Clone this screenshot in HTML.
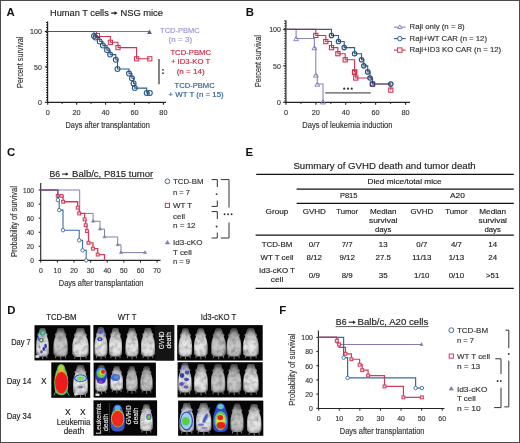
<!DOCTYPE html><html><head><meta charset="utf-8"><style>html,body{margin:0;padding:0;background:#fff;overflow:hidden;}svg{display:block;will-change:transform;filter:blur(0.25px);}text{font-family:"Liberation Sans", sans-serif;}</style></head><body>
<svg width="520" height="443" viewBox="0 0 520 443">
<rect x="0" y="0" width="520" height="443" fill="#fff"/>
<text x="6.6" y="16.1" font-size="11.4" fill="#111" font-weight="bold">A</text>
<text x="245.8" y="16.3" font-size="11.4" fill="#111" font-weight="bold">B</text>
<text x="6.9" y="155.6" font-size="11.4" fill="#111" font-weight="bold">C</text>
<text x="245.5" y="155.5" font-size="11.4" fill="#111" font-weight="bold">E</text>
<text x="7.3" y="313.5" font-size="11.4" fill="#111" font-weight="bold">D</text>
<text x="279.3" y="313.9" font-size="11.4" fill="#111" font-weight="bold">F</text>
<text x="50" y="15.8" font-size="9.0" fill="#222" stroke="#222" stroke-width="0.15" textLength="58.8" lengthAdjust="spacingAndGlyphs">Human T cells</text>
<line x1="111.2" y1="13.1" x2="115.0" y2="13.1" stroke="#222" stroke-width="1.3"/>
<path d="M117.7,13.1 L114.5,11.2 L114.5,15.0 Z" fill="#222"/>
<text x="120.4" y="15.8" font-size="9.0" fill="#222" stroke="#222" stroke-width="0.15" textLength="42.6" lengthAdjust="spacingAndGlyphs">NSG mice</text>
<line x1="47.6" y1="21.6" x2="47.6" y2="102.9" stroke="#222" stroke-width="1.2"/>
<line x1="46.6" y1="22" x2="46.6" y2="102" stroke="#222" stroke-width="1.2" stroke-dasharray="0.9 1.6"/>
<line x1="44.8" y1="102.3" x2="47.6" y2="102.3" stroke="#222" stroke-width="1.1"/>
<line x1="44.8" y1="66.9" x2="47.6" y2="66.9" stroke="#222" stroke-width="1.1"/>
<line x1="44.8" y1="31.5" x2="47.6" y2="31.5" stroke="#222" stroke-width="1.1"/>
<line x1="47" y1="102.3" x2="166" y2="102.3" stroke="#222" stroke-width="1.2"/>
<line x1="47.7" y1="102.3" x2="47.7" y2="104.8" stroke="#222" stroke-width="1.1"/>
<line x1="76.625" y1="102.3" x2="76.625" y2="104.8" stroke="#222" stroke-width="1.1"/>
<line x1="105.55000000000001" y1="102.3" x2="105.55000000000001" y2="104.8" stroke="#222" stroke-width="1.1"/>
<line x1="134.47500000000002" y1="102.3" x2="134.47500000000002" y2="104.8" stroke="#222" stroke-width="1.1"/>
<line x1="163.4" y1="102.3" x2="163.4" y2="104.8" stroke="#222" stroke-width="1.1"/>
<line x1="62.1625" y1="102.3" x2="62.1625" y2="104" stroke="#222" stroke-width="0.9"/>
<line x1="91.0875" y1="102.3" x2="91.0875" y2="104" stroke="#222" stroke-width="0.9"/>
<line x1="120.0125" y1="102.3" x2="120.0125" y2="104" stroke="#222" stroke-width="0.9"/>
<line x1="148.9375" y1="102.3" x2="148.9375" y2="104" stroke="#222" stroke-width="0.9"/>
<text x="41.8" y="34.4" font-size="8.1" fill="#333" stroke="#333" stroke-width="0.15" text-anchor="end" textLength="11.7" lengthAdjust="spacingAndGlyphs">100</text>
<text x="41.8" y="69.80000000000001" font-size="8.1" fill="#333" stroke="#333" stroke-width="0.15" text-anchor="end" textLength="7.8" lengthAdjust="spacingAndGlyphs">50</text>
<text x="41.8" y="105.2" font-size="8.1" fill="#333" stroke="#333" stroke-width="0.15" text-anchor="end" textLength="3.9" lengthAdjust="spacingAndGlyphs">0</text>
<text x="47.7" y="114.9" font-size="8.1" fill="#333" stroke="#333" stroke-width="0.15" text-anchor="middle" textLength="4.05" lengthAdjust="spacingAndGlyphs">0</text>
<text x="76.625" y="114.9" font-size="8.1" fill="#333" stroke="#333" stroke-width="0.15" text-anchor="middle" textLength="8.1" lengthAdjust="spacingAndGlyphs">20</text>
<text x="105.55000000000001" y="114.9" font-size="8.1" fill="#333" stroke="#333" stroke-width="0.15" text-anchor="middle" textLength="8.1" lengthAdjust="spacingAndGlyphs">40</text>
<text x="134.47500000000002" y="114.9" font-size="8.1" fill="#333" stroke="#333" stroke-width="0.15" text-anchor="middle" textLength="8.1" lengthAdjust="spacingAndGlyphs">60</text>
<text x="163.4" y="114.9" font-size="8.1" fill="#333" stroke="#333" stroke-width="0.15" text-anchor="middle" textLength="8.1" lengthAdjust="spacingAndGlyphs">80</text>
<text x="65.5" y="127.6" font-size="8.4" fill="#333" stroke="#333" stroke-width="0.15" textLength="84.3" lengthAdjust="spacingAndGlyphs">Days after transplantation</text>
<text x="0" y="0" font-size="8.2" fill="#333" stroke="#333" stroke-width="0.15" text-anchor="middle" textLength="51.3" lengthAdjust="spacingAndGlyphs" transform="translate(23.3,62.4) rotate(-90)">Percent survival</text>
<path d="M47.70,31.50 L149.60,31.50" stroke="#7676a6" stroke-width="1.1" fill="none" stroke-linejoin="miter"/>
<path d="M149.5,29.6 L151.9,33.9 L147.1,33.9 Z" fill="#5e5e8e"/>
<path d="M47.70,31.50 L96.50,31.50 L96.50,36.50 L110.40,36.50 L110.40,42.20 L118.00,42.20 L118.00,47.60 L136.60,47.60 L136.60,58.70 L149.80,58.70" stroke="#d2304f" stroke-width="1.1" fill="none" stroke-linejoin="miter"/>
<rect x="95.40" y="33.50" width="4.2" height="4.2" stroke="#d2304f" stroke-width="1.0" fill="none"/>
<rect x="108.30" y="40.20" width="4.2" height="4.2" stroke="#d2304f" stroke-width="1.0" fill="none"/>
<rect x="115.90" y="45.50" width="4.2" height="4.2" stroke="#d2304f" stroke-width="1.0" fill="none"/>
<rect x="134.50" y="56.70" width="4.2" height="4.2" stroke="#d2304f" stroke-width="1.0" fill="none"/>
<rect x="147.70" y="56.70" width="4.2" height="4.2" stroke="#d2304f" stroke-width="1.0" fill="none"/>
<path d="M47.70,31.50 L94.00,31.50 L94.00,36.10 L95.60,36.10 L95.60,37.60 L99.70,37.60 L99.70,41.50 L102.90,41.50 L102.90,45.60 L107.00,45.60 L107.00,50.10 L110.10,50.10 L110.10,54.60 L115.80,54.60 L115.80,59.80 L117.50,59.80 L117.50,69.00 L129.00,69.00 L129.00,73.60 L131.90,73.60 L131.90,78.30 L133.60,78.30 L133.60,83.40 L134.80,83.40 L134.80,88.10 L146.70,88.10 L146.70,92.90 L149.80,92.90" stroke="#2d5d8e" stroke-width="1.1" fill="none" stroke-linejoin="miter"/>
<circle cx="94.00" cy="36.10" r="2.45" stroke="#2b5583" stroke-width="1.1" fill="none"/>
<circle cx="95.60" cy="37.60" r="2.45" stroke="#2b5583" stroke-width="1.1" fill="none"/>
<circle cx="99.70" cy="41.50" r="2.45" stroke="#2b5583" stroke-width="1.1" fill="none"/>
<circle cx="102.90" cy="45.60" r="2.45" stroke="#2b5583" stroke-width="1.1" fill="none"/>
<circle cx="107.00" cy="50.10" r="2.45" stroke="#2b5583" stroke-width="1.1" fill="none"/>
<circle cx="110.10" cy="54.60" r="2.45" stroke="#2b5583" stroke-width="1.1" fill="none"/>
<circle cx="115.80" cy="59.80" r="2.45" stroke="#2b5583" stroke-width="1.1" fill="none"/>
<circle cx="117.50" cy="69.00" r="2.45" stroke="#2b5583" stroke-width="1.1" fill="none"/>
<circle cx="129.00" cy="73.60" r="2.45" stroke="#2b5583" stroke-width="1.1" fill="none"/>
<circle cx="131.90" cy="78.30" r="2.45" stroke="#2b5583" stroke-width="1.1" fill="none"/>
<circle cx="133.60" cy="83.40" r="2.45" stroke="#2b5583" stroke-width="1.1" fill="none"/>
<circle cx="134.80" cy="88.10" r="2.45" stroke="#2b5583" stroke-width="1.1" fill="none"/>
<circle cx="146.70" cy="92.90" r="2.45" stroke="#2b5583" stroke-width="1.1" fill="none"/>
<circle cx="149.80" cy="92.90" r="2.45" stroke="#2b5583" stroke-width="1.1" fill="none"/>
<text x="160.1" y="32.7" font-size="7.7" fill="#9895cf" stroke="#9895cf" stroke-width="0.15" textLength="39.7" lengthAdjust="spacingAndGlyphs">TCD-PBMC</text>
<text x="168.6" y="42.1" font-size="7.7" fill="#9895cf" stroke="#9895cf" stroke-width="0.15" textLength="23.5" lengthAdjust="spacingAndGlyphs">(n = 3)</text>
<text x="170.4" y="55.3" font-size="7.7" fill="#c8253f" stroke="#c8253f" stroke-width="0.15" textLength="40.6" lengthAdjust="spacingAndGlyphs">TCD-PBMC</text>
<text x="170.9" y="64.3" font-size="7.7" fill="#c8253f" stroke="#c8253f" stroke-width="0.15" textLength="39.3" lengthAdjust="spacingAndGlyphs">+ ID3-KO T</text>
<text x="176.7" y="73.9" font-size="7.7" fill="#c8253f" stroke="#c8253f" stroke-width="0.15" textLength="28" lengthAdjust="spacingAndGlyphs">(n = 14)</text>
<text x="174.5" y="88.4" font-size="7.7" fill="#2c5d8d" stroke="#2c5d8d" stroke-width="0.15" textLength="40.2" lengthAdjust="spacingAndGlyphs">TCD-PBMC</text>
<text x="168.6" y="96.9" font-size="7.7" fill="#2c5d8d" stroke="#2c5d8d" stroke-width="0.15" textLength="55.1" lengthAdjust="spacingAndGlyphs">+ WT T (n = 15)</text>
<line x1="159" y1="58.9" x2="159" y2="84.2" stroke="#777" stroke-width="1.8"/>
<circle cx="163.00" cy="69.80" r="0.9" stroke="#333" stroke-width="0" fill="#333"/>
<circle cx="163.00" cy="73.20" r="0.9" stroke="#333" stroke-width="0" fill="#333"/>
<line x1="285.9" y1="20.2" x2="285.9" y2="102.9" stroke="#222" stroke-width="1.2"/>
<line x1="284.9" y1="20.5" x2="284.9" y2="102" stroke="#222" stroke-width="1.2" stroke-dasharray="0.9 1.6"/>
<line x1="283.2" y1="102.3" x2="285.9" y2="102.3" stroke="#222" stroke-width="1.1"/>
<line x1="283.2" y1="65.85" x2="285.9" y2="65.85" stroke="#222" stroke-width="1.1"/>
<line x1="283.2" y1="29.39999999999999" x2="285.9" y2="29.39999999999999" stroke="#222" stroke-width="1.1"/>
<line x1="285.3" y1="102.3" x2="410" y2="102.3" stroke="#222" stroke-width="1.2"/>
<line x1="286.0" y1="102.3" x2="286.0" y2="104.8" stroke="#222" stroke-width="1.1"/>
<line x1="315.875" y1="102.3" x2="315.875" y2="104.8" stroke="#222" stroke-width="1.1"/>
<line x1="345.75" y1="102.3" x2="345.75" y2="104.8" stroke="#222" stroke-width="1.1"/>
<line x1="375.625" y1="102.3" x2="375.625" y2="104.8" stroke="#222" stroke-width="1.1"/>
<line x1="405.5" y1="102.3" x2="405.5" y2="104.8" stroke="#222" stroke-width="1.1"/>
<line x1="300.9375" y1="102.3" x2="300.9375" y2="104" stroke="#222" stroke-width="0.9"/>
<line x1="330.8125" y1="102.3" x2="330.8125" y2="104" stroke="#222" stroke-width="0.9"/>
<line x1="360.6875" y1="102.3" x2="360.6875" y2="104" stroke="#222" stroke-width="0.9"/>
<line x1="390.5625" y1="102.3" x2="390.5625" y2="104" stroke="#222" stroke-width="0.9"/>
<text x="280.9" y="32.29999999999999" font-size="8.1" fill="#333" stroke="#333" stroke-width="0.15" text-anchor="end" textLength="11.7" lengthAdjust="spacingAndGlyphs">100</text>
<text x="280.9" y="68.75" font-size="8.1" fill="#333" stroke="#333" stroke-width="0.15" text-anchor="end" textLength="7.8" lengthAdjust="spacingAndGlyphs">50</text>
<text x="280.9" y="105.2" font-size="8.1" fill="#333" stroke="#333" stroke-width="0.15" text-anchor="end" textLength="3.9" lengthAdjust="spacingAndGlyphs">0</text>
<text x="286.0" y="115.0" font-size="8.1" fill="#333" stroke="#333" stroke-width="0.15" text-anchor="middle" textLength="4.05" lengthAdjust="spacingAndGlyphs">0</text>
<text x="315.875" y="115.0" font-size="8.1" fill="#333" stroke="#333" stroke-width="0.15" text-anchor="middle" textLength="8.1" lengthAdjust="spacingAndGlyphs">20</text>
<text x="345.75" y="115.0" font-size="8.1" fill="#333" stroke="#333" stroke-width="0.15" text-anchor="middle" textLength="8.1" lengthAdjust="spacingAndGlyphs">40</text>
<text x="375.625" y="115.0" font-size="8.1" fill="#333" stroke="#333" stroke-width="0.15" text-anchor="middle" textLength="8.1" lengthAdjust="spacingAndGlyphs">60</text>
<text x="405.5" y="115.0" font-size="8.1" fill="#333" stroke="#333" stroke-width="0.15" text-anchor="middle" textLength="8.1" lengthAdjust="spacingAndGlyphs">80</text>
<text x="302.3" y="127.6" font-size="8.4" fill="#333" stroke="#333" stroke-width="0.15" textLength="90.2" lengthAdjust="spacingAndGlyphs">Days of leukemia induction</text>
<text x="0" y="0" font-size="8.2" fill="#333" stroke="#333" stroke-width="0.15" text-anchor="middle" textLength="51.8" lengthAdjust="spacingAndGlyphs" transform="translate(261.2,61.1) rotate(-90)">Percent survival</text>
<path d="M286.00,29.40 L296.10,29.40 L296.10,38.51 L314.40,38.51 L314.40,47.62 L315.80,47.62 L315.80,74.96 L317.30,74.96 L317.30,84.07 L323.00,84.07 L323.00,102.30" stroke="#8686c0" stroke-width="1.1" fill="none" stroke-linejoin="miter"/>
<path d="M296.10,36.51 L298.52,40.65 L293.69,40.65 Z" stroke="#8686c0" stroke-width="1.0" fill="none"/>
<path d="M314.40,45.62 L316.81,49.77 L311.98,49.77 Z" stroke="#8686c0" stroke-width="1.0" fill="none"/>
<path d="M315.80,72.96 L318.22,77.10 L313.38,77.10 Z" stroke="#8686c0" stroke-width="1.0" fill="none"/>
<path d="M317.30,82.07 L319.72,86.21 L314.88,86.21 Z" stroke="#8686c0" stroke-width="1.0" fill="none"/>
<path d="M323.00,99.80 L325.42,103.94 L320.58,103.94 Z" stroke="#8686c0" stroke-width="1.0" fill="none"/>
<path d="M286.00,29.40 L315.80,29.40 L315.80,35.45 L325.80,35.45 L325.80,41.57 L331.50,41.57 L331.50,47.62 L337.90,47.62 L337.90,53.68 L345.20,53.68 L345.20,59.80 L354.60,59.80 L354.60,71.90 L355.80,71.90 L355.80,78.02 L372.50,78.02 L372.50,84.07 L390.80,84.07 L390.80,90.13" stroke="#d2304f" stroke-width="1.1" fill="none" stroke-linejoin="miter"/>
<path d="M286.00,29.40 L331.50,29.40 L331.50,35.45 L338.50,35.45 L338.50,41.57 L344.20,41.57 L344.20,47.62 L354.60,47.62 L354.60,53.68 L361.50,53.68 L361.50,59.80 L363.80,59.80 L363.80,65.85 L367.70,65.85 L367.70,71.90 L370.00,71.90 L370.00,78.02 L372.50,78.02 L372.50,84.07 L390.80,84.07" stroke="#2d5d8e" stroke-width="1.1" fill="none" stroke-linejoin="miter"/>
<rect x="313.70" y="33.35" width="4.2" height="4.2" stroke="#d2304f" stroke-width="1.1" fill="none"/>
<rect x="323.70" y="39.47" width="4.2" height="4.2" stroke="#d2304f" stroke-width="1.1" fill="none"/>
<rect x="329.40" y="45.52" width="4.2" height="4.2" stroke="#d2304f" stroke-width="1.1" fill="none"/>
<rect x="335.80" y="51.58" width="4.2" height="4.2" stroke="#d2304f" stroke-width="1.1" fill="none"/>
<rect x="343.10" y="57.70" width="4.2" height="4.2" stroke="#d2304f" stroke-width="1.1" fill="none"/>
<rect x="352.50" y="69.80" width="4.2" height="4.2" stroke="#d2304f" stroke-width="1.1" fill="none"/>
<rect x="353.70" y="75.92" width="4.2" height="4.2" stroke="#d2304f" stroke-width="1.1" fill="none"/>
<rect x="352.50" y="70.30" width="4.2" height="4.2" stroke="#d2304f" stroke-width="1.1" fill="none"/>
<circle cx="331.50" cy="35.45" r="2.2" stroke="#2a4d78" stroke-width="1.2" fill="none"/>
<circle cx="338.50" cy="41.57" r="2.2" stroke="#2a4d78" stroke-width="1.2" fill="none"/>
<circle cx="344.20" cy="47.62" r="2.2" stroke="#2a4d78" stroke-width="1.2" fill="none"/>
<circle cx="354.60" cy="53.68" r="2.2" stroke="#2a4d78" stroke-width="1.2" fill="none"/>
<circle cx="361.50" cy="59.80" r="2.2" stroke="#2a4d78" stroke-width="1.2" fill="none"/>
<circle cx="363.80" cy="65.85" r="2.2" stroke="#2a4d78" stroke-width="1.2" fill="none"/>
<circle cx="367.70" cy="71.90" r="2.2" stroke="#2a4d78" stroke-width="1.2" fill="none"/>
<circle cx="370.00" cy="78.02" r="2.2" stroke="#2a4d78" stroke-width="1.2" fill="none"/>
<circle cx="372.50" cy="84.07" r="2.2" stroke="#2a4d78" stroke-width="1.2" fill="none"/>
<circle cx="390.80" cy="84.07" r="2.2" stroke="#2a4d78" stroke-width="1.2" fill="none"/>
<rect x="370.30" y="81.87" width="4.4" height="4.4" stroke="#4a3a6a" stroke-width="1.0" fill="none"/>
<rect x="388.70" y="88.03" width="4.2" height="4.2" stroke="#d2304f" stroke-width="1.1" fill="none"/>
<line x1="325.2" y1="92.9" x2="370.7" y2="92.9" stroke="#888" stroke-width="1.6"/>
<circle cx="344.20" cy="88.70" r="1.1" stroke="#333" stroke-width="0" fill="#333"/>
<circle cx="348.00" cy="88.70" r="1.1" stroke="#333" stroke-width="0" fill="#333"/>
<circle cx="351.70" cy="88.70" r="1.1" stroke="#333" stroke-width="0" fill="#333"/>
<line x1="394" y1="27.2" x2="405.6" y2="27.2" stroke="#8686c0" stroke-width="1.1"/>
<path d="M399.80,24.90 L401.90,28.50 L397.70,28.50 Z" stroke="#8686c0" stroke-width="1.0" fill="#fff"/>
<line x1="394" y1="38.6" x2="405.6" y2="38.6" stroke="#2d5d8e" stroke-width="1.1"/>
<circle cx="399.80" cy="38.60" r="2.2" stroke="#2d5d8e" stroke-width="1.0" fill="#fff"/>
<line x1="394" y1="50.1" x2="405.6" y2="50.1" stroke="#d2304f" stroke-width="1.1"/>
<rect x="397.60" y="47.90" width="4.4" height="4.4" stroke="#d2304f" stroke-width="1.0" fill="#fff"/>
<text x="409.6" y="29.2" font-size="7.4" fill="#333" stroke="#333" stroke-width="0.15" textLength="55" lengthAdjust="spacingAndGlyphs">Raji only (n = 8)</text>
<text x="409.6" y="40.6" font-size="7.4" fill="#333" stroke="#333" stroke-width="0.15" textLength="77.4" lengthAdjust="spacingAndGlyphs">Raji+WT CAR (n = 12)</text>
<text x="409.6" y="52.1" font-size="7.4" fill="#333" stroke="#333" stroke-width="0.15" textLength="91.6" lengthAdjust="spacingAndGlyphs">Raji+ID3 KO CAR (n = 12)</text>
<text x="49.6" y="177.1" font-size="8.8" fill="#222" stroke="#222" stroke-width="0.15" textLength="10.6" lengthAdjust="spacingAndGlyphs">B6</text>
<line x1="62.1" y1="174.1" x2="66.3" y2="174.1" stroke="#222" stroke-width="1.1"/>
<path d="M68.6,174.1 L65.8,172.4 L65.8,175.79999999999998 Z" fill="#222"/>
<text x="72.1" y="177.1" font-size="8.8" fill="#222" stroke="#222" stroke-width="0.15" textLength="81.1" lengthAdjust="spacingAndGlyphs">Balb/c, P815 tumor</text>
<line x1="49.6" y1="178.6" x2="153.2" y2="178.6" stroke="#333" stroke-width="0.8"/>
<line x1="40.7" y1="183" x2="40.7" y2="260.9" stroke="#222" stroke-width="1.1"/>
<line x1="38.6" y1="260.4" x2="40.7" y2="260.4" stroke="#222" stroke-width="1.0"/>
<line x1="38.6" y1="246.32" x2="40.7" y2="246.32" stroke="#222" stroke-width="1.0"/>
<line x1="38.6" y1="232.23999999999998" x2="40.7" y2="232.23999999999998" stroke="#222" stroke-width="1.0"/>
<line x1="38.6" y1="218.16" x2="40.7" y2="218.16" stroke="#222" stroke-width="1.0"/>
<line x1="38.6" y1="204.07999999999998" x2="40.7" y2="204.07999999999998" stroke="#222" stroke-width="1.0"/>
<line x1="38.6" y1="190.0" x2="40.7" y2="190.0" stroke="#222" stroke-width="1.0"/>
<line x1="40.2" y1="260.4" x2="160.5" y2="260.4" stroke="#222" stroke-width="1.1"/>
<line x1="40.8" y1="260.4" x2="40.8" y2="262.6" stroke="#222" stroke-width="1.0"/>
<line x1="57.41428571428571" y1="260.4" x2="57.41428571428571" y2="262.6" stroke="#222" stroke-width="1.0"/>
<line x1="74.02857142857142" y1="260.4" x2="74.02857142857142" y2="262.6" stroke="#222" stroke-width="1.0"/>
<line x1="90.64285714285714" y1="260.4" x2="90.64285714285714" y2="262.6" stroke="#222" stroke-width="1.0"/>
<line x1="107.25714285714285" y1="260.4" x2="107.25714285714285" y2="262.6" stroke="#222" stroke-width="1.0"/>
<line x1="123.87142857142858" y1="260.4" x2="123.87142857142858" y2="262.6" stroke="#222" stroke-width="1.0"/>
<line x1="140.4857142857143" y1="260.4" x2="140.4857142857143" y2="262.6" stroke="#222" stroke-width="1.0"/>
<line x1="157.10000000000002" y1="260.4" x2="157.10000000000002" y2="262.6" stroke="#222" stroke-width="1.0"/>
<text x="34" y="263.2" font-size="7.8" fill="#333" stroke="#333" stroke-width="0.15" text-anchor="end" textLength="3.65" lengthAdjust="spacingAndGlyphs">0</text>
<text x="34" y="249.12" font-size="7.8" fill="#333" stroke="#333" stroke-width="0.15" text-anchor="end" textLength="7.3" lengthAdjust="spacingAndGlyphs">20</text>
<text x="34" y="235.04" font-size="7.8" fill="#333" stroke="#333" stroke-width="0.15" text-anchor="end" textLength="7.3" lengthAdjust="spacingAndGlyphs">40</text>
<text x="34" y="220.96" font-size="7.8" fill="#333" stroke="#333" stroke-width="0.15" text-anchor="end" textLength="7.3" lengthAdjust="spacingAndGlyphs">60</text>
<text x="34" y="206.88" font-size="7.8" fill="#333" stroke="#333" stroke-width="0.15" text-anchor="end" textLength="7.3" lengthAdjust="spacingAndGlyphs">80</text>
<text x="34" y="192.8" font-size="7.8" fill="#333" stroke="#333" stroke-width="0.15" text-anchor="end" textLength="10.95" lengthAdjust="spacingAndGlyphs">100</text>
<text x="40.8" y="273.2" font-size="7.8" fill="#333" stroke="#333" stroke-width="0.15" text-anchor="middle" textLength="3.8" lengthAdjust="spacingAndGlyphs">0</text>
<text x="57.41428571428571" y="273.2" font-size="7.8" fill="#333" stroke="#333" stroke-width="0.15" text-anchor="middle" textLength="7.6" lengthAdjust="spacingAndGlyphs">10</text>
<text x="74.02857142857142" y="273.2" font-size="7.8" fill="#333" stroke="#333" stroke-width="0.15" text-anchor="middle" textLength="7.6" lengthAdjust="spacingAndGlyphs">20</text>
<text x="90.64285714285714" y="273.2" font-size="7.8" fill="#333" stroke="#333" stroke-width="0.15" text-anchor="middle" textLength="7.6" lengthAdjust="spacingAndGlyphs">30</text>
<text x="107.25714285714285" y="273.2" font-size="7.8" fill="#333" stroke="#333" stroke-width="0.15" text-anchor="middle" textLength="7.6" lengthAdjust="spacingAndGlyphs">40</text>
<text x="123.87142857142858" y="273.2" font-size="7.8" fill="#333" stroke="#333" stroke-width="0.15" text-anchor="middle" textLength="7.6" lengthAdjust="spacingAndGlyphs">50</text>
<text x="140.4857142857143" y="273.2" font-size="7.8" fill="#333" stroke="#333" stroke-width="0.15" text-anchor="middle" textLength="7.6" lengthAdjust="spacingAndGlyphs">60</text>
<text x="157.10000000000002" y="273.2" font-size="7.8" fill="#333" stroke="#333" stroke-width="0.15" text-anchor="middle" textLength="7.6" lengthAdjust="spacingAndGlyphs">70</text>
<text x="58.8" y="286.2" font-size="8.4" fill="#333" stroke="#333" stroke-width="0.15" textLength="84.7" lengthAdjust="spacingAndGlyphs">Days after transplantation</text>
<text x="0" y="0" font-size="8.2" fill="#333" stroke="#333" stroke-width="0.15" text-anchor="middle" textLength="71" lengthAdjust="spacingAndGlyphs" transform="translate(16.6,221.6) rotate(-90)">Probability of survival</text>
<path d="M40.80,190.00 L79.70,190.00 L79.70,213.44 L93.10,213.44 L93.10,221.26 L100.00,221.26 L100.00,229.14 L104.50,229.14 L104.50,236.96 L117.70,236.96 L117.70,244.77 L121.00,244.77 L121.00,252.59 L145.00,252.59" stroke="#7e7eb0" stroke-width="1.0" fill="none" stroke-linejoin="miter"/>
<path d="M79.70,211.64 L81.28,214.34 L78.12,214.34 Z" stroke="#7e7eb0" stroke-width="0.6" fill="#7e7eb0"/>
<path d="M93.10,219.46 L94.67,222.16 L91.52,222.16 Z" stroke="#7e7eb0" stroke-width="0.6" fill="#7e7eb0"/>
<path d="M100.00,227.34 L101.58,230.04 L98.42,230.04 Z" stroke="#7e7eb0" stroke-width="0.6" fill="#7e7eb0"/>
<path d="M104.50,235.16 L106.08,237.86 L102.92,237.86 Z" stroke="#7e7eb0" stroke-width="0.6" fill="#7e7eb0"/>
<path d="M117.70,242.97 L119.28,245.67 L116.12,245.67 Z" stroke="#7e7eb0" stroke-width="0.6" fill="#7e7eb0"/>
<path d="M121.00,250.79 L122.58,253.49 L119.42,253.49 Z" stroke="#7e7eb0" stroke-width="0.6" fill="#7e7eb0"/>
<path d="M145.00,250.79 L146.57,253.49 L143.43,253.49 Z" stroke="#7e7eb0" stroke-width="0.6" fill="#7e7eb0"/>
<path d="M40.80,190.00 L57.70,190.00 L57.70,195.84 L61.50,195.84 L61.50,195.84 L63.10,195.84 L63.10,201.76 L77.70,201.76 L77.70,207.60 L79.20,207.60 L79.20,213.44 L84.60,213.44 L84.60,219.36 L85.70,219.36 L85.70,225.20 L86.90,225.20 L86.90,231.04 L88.50,231.04 L88.50,242.80 L93.00,242.80 L93.00,248.64 L97.70,248.64 L97.70,254.56 L104.50,254.56 L104.50,260.40" stroke="#d43a5c" stroke-width="1.3" fill="none" stroke-linejoin="miter"/>
<rect x="56.25" y="194.39" width="2.9" height="2.9" stroke="#d43a5c" stroke-width="1.0" fill="#f8d8e0"/>
<rect x="60.05" y="194.39" width="2.9" height="2.9" stroke="#d43a5c" stroke-width="1.0" fill="#f8d8e0"/>
<rect x="61.65" y="200.31" width="2.9" height="2.9" stroke="#d43a5c" stroke-width="1.0" fill="#f8d8e0"/>
<rect x="76.25" y="206.15" width="2.9" height="2.9" stroke="#d43a5c" stroke-width="1.0" fill="#f8d8e0"/>
<rect x="77.75" y="211.99" width="2.9" height="2.9" stroke="#d43a5c" stroke-width="1.0" fill="#f8d8e0"/>
<rect x="83.15" y="217.91" width="2.9" height="2.9" stroke="#d43a5c" stroke-width="1.0" fill="#f8d8e0"/>
<rect x="84.25" y="223.75" width="2.9" height="2.9" stroke="#d43a5c" stroke-width="1.0" fill="#f8d8e0"/>
<rect x="85.45" y="229.59" width="2.9" height="2.9" stroke="#d43a5c" stroke-width="1.0" fill="#f8d8e0"/>
<rect x="87.05" y="241.35" width="2.9" height="2.9" stroke="#d43a5c" stroke-width="1.0" fill="#f8d8e0"/>
<rect x="91.55" y="247.19" width="2.9" height="2.9" stroke="#d43a5c" stroke-width="1.0" fill="#f8d8e0"/>
<rect x="96.25" y="253.11" width="2.9" height="2.9" stroke="#d43a5c" stroke-width="1.0" fill="#f8d8e0"/>
<path d="M40.80,190.00 L57.90,190.00 L57.90,200.07 L59.20,200.07 L59.20,210.13 L63.00,210.13 L63.00,230.20 L79.20,230.20 L79.20,240.27 L82.60,240.27 L82.60,250.33 L86.20,250.33 L86.20,260.40" stroke="#3a6c9e" stroke-width="1.1" fill="none" stroke-linejoin="miter"/>
<circle cx="57.90" cy="200.07" r="1.75" stroke="#3a6c9e" stroke-width="0.9" fill="#fff"/>
<circle cx="59.20" cy="210.13" r="1.75" stroke="#3a6c9e" stroke-width="0.9" fill="#fff"/>
<circle cx="63.00" cy="230.20" r="1.75" stroke="#3a6c9e" stroke-width="0.9" fill="#fff"/>
<circle cx="79.20" cy="240.27" r="1.75" stroke="#3a6c9e" stroke-width="0.9" fill="#fff"/>
<circle cx="82.60" cy="250.33" r="1.75" stroke="#3a6c9e" stroke-width="0.9" fill="#fff"/>
<circle cx="86.20" cy="260.40" r="1.75" stroke="#3a6c9e" stroke-width="0.9" fill="#fff"/>
<circle cx="167.40" cy="181.30" r="2.4" stroke="#3a6c9e" stroke-width="1.0" fill="#fff"/>
<rect x="165.30" y="203.30" width="4.2" height="4.2" stroke="#d43a5c" stroke-width="1.0" fill="#fff"/>
<path d="M167.40,240.40 L169.50,244.00 L165.30,244.00 Z" stroke="#7e7eb0" stroke-width="0.6" fill="#7e7eb0"/>
<text x="173" y="184.0" font-size="7.5" fill="#333" stroke="#333" stroke-width="0.15" textLength="30.5" lengthAdjust="spacingAndGlyphs">TCD-BM</text>
<text x="173" y="194.6" font-size="7.5" fill="#333" stroke="#333" stroke-width="0.15" textLength="17" lengthAdjust="spacingAndGlyphs">n = 7</text>
<text x="173" y="208.1" font-size="7.5" fill="#333" stroke="#333" stroke-width="0.15" textLength="19.2" lengthAdjust="spacingAndGlyphs">WT T</text>
<text x="173" y="219.0" font-size="7.5" fill="#333" stroke="#333" stroke-width="0.15" textLength="12" lengthAdjust="spacingAndGlyphs">cell</text>
<text x="173" y="227.6" font-size="7.5" fill="#333" stroke="#333" stroke-width="0.15" textLength="22.6" lengthAdjust="spacingAndGlyphs">n = 12</text>
<text x="173" y="245.4" font-size="7.5" fill="#333" stroke="#333" stroke-width="0.15" textLength="29.4" lengthAdjust="spacingAndGlyphs">Id3-cKO</text>
<text x="173" y="255.1" font-size="7.5" fill="#333" stroke="#333" stroke-width="0.15" textLength="18.8" lengthAdjust="spacingAndGlyphs">T cell</text>
<text x="173" y="264.1" font-size="7.5" fill="#333" stroke="#333" stroke-width="0.15" textLength="17" lengthAdjust="spacingAndGlyphs">n = 9</text>
<path d="M211.60,179.60 L217.30,179.60 L217.30,187.00" stroke="#333" stroke-width="1.0" fill="none" stroke-linejoin="miter"/>
<path d="M217.30,200.50 L217.30,206.40 L211.60,206.40" stroke="#333" stroke-width="1.0" fill="none" stroke-linejoin="miter"/>
<circle cx="216.60" cy="194.10" r="0.95" stroke="#333" stroke-width="0" fill="#333"/>
<path d="M211.60,211.60 L217.30,211.60 L217.30,219.00" stroke="#333" stroke-width="1.0" fill="none" stroke-linejoin="miter"/>
<path d="M217.30,232.50 L217.30,238.00 L211.60,238.00" stroke="#333" stroke-width="1.0" fill="none" stroke-linejoin="miter"/>
<circle cx="216.60" cy="226.50" r="0.95" stroke="#333" stroke-width="0" fill="#333"/>
<path d="M220.80,179.60 L229.00,179.60 L229.00,207.50" stroke="#333" stroke-width="1.0" fill="none" stroke-linejoin="miter"/>
<path d="M229.00,222.50 L229.00,238.00 L220.80,238.00" stroke="#333" stroke-width="1.0" fill="none" stroke-linejoin="miter"/>
<circle cx="224.60" cy="214.30" r="0.95" stroke="#333" stroke-width="0" fill="#333"/>
<circle cx="228.10" cy="214.30" r="0.95" stroke="#333" stroke-width="0" fill="#333"/>
<circle cx="231.60" cy="214.30" r="0.95" stroke="#333" stroke-width="0" fill="#333"/>
<text x="293.4" y="169.1" font-size="9.6" fill="#222" stroke="#222" stroke-width="0.15" textLength="182.3" lengthAdjust="spacingAndGlyphs">Summary of GVHD death and tumor death</text>
<line x1="256.2" y1="174.3" x2="513.8" y2="174.3" stroke="#111" stroke-width="1.25"/>
<line x1="296.6" y1="189.0" x2="513.8" y2="189.0" stroke="#111" stroke-width="1.25"/>
<line x1="296.6" y1="203.3" x2="513.8" y2="203.3" stroke="#111" stroke-width="1.25"/>
<line x1="255.6" y1="235.0" x2="513.8" y2="235.0" stroke="#111" stroke-width="1.25"/>
<line x1="255.6" y1="288.3" x2="513.8" y2="288.3" stroke="#111" stroke-width="1.25"/>
<text x="404.6" y="184.10000000000002" font-size="7.9" fill="#222" stroke="#222" stroke-width="0.15" text-anchor="middle" textLength="74.2" lengthAdjust="spacingAndGlyphs">Died mice/total mice</text>
<text x="348.7" y="198.3" font-size="7.9" fill="#222" stroke="#222" stroke-width="0.15" text-anchor="middle" textLength="17.5" lengthAdjust="spacingAndGlyphs">P815</text>
<text x="457.4" y="198.3" font-size="7.9" fill="#222" stroke="#222" stroke-width="0.15" text-anchor="middle" textLength="14.9" lengthAdjust="spacingAndGlyphs">A20</text>
<text x="277" y="213.5" font-size="7.9" fill="#222" stroke="#222" stroke-width="0.15" text-anchor="middle" textLength="22.8" lengthAdjust="spacingAndGlyphs">Group</text>
<text x="314.3" y="213.5" font-size="7.9" fill="#222" stroke="#222" stroke-width="0.15" text-anchor="middle" textLength="23.2" lengthAdjust="spacingAndGlyphs">GVHD</text>
<text x="347.2" y="213.5" font-size="7.9" fill="#222" stroke="#222" stroke-width="0.15" text-anchor="middle" textLength="21.9" lengthAdjust="spacingAndGlyphs">Tumor</text>
<text x="383.2" y="213.5" font-size="7.9" fill="#222" stroke="#222" stroke-width="0.15" text-anchor="middle" textLength="26.6" lengthAdjust="spacingAndGlyphs">Median</text>
<text x="383.2" y="223.0" font-size="7.9" fill="#222" stroke="#222" stroke-width="0.15" text-anchor="middle" textLength="28.5" lengthAdjust="spacingAndGlyphs">survival</text>
<text x="383.2" y="231.9" font-size="7.9" fill="#222" stroke="#222" stroke-width="0.15" text-anchor="middle" textLength="16.5" lengthAdjust="spacingAndGlyphs">days</text>
<text x="421.8" y="213.5" font-size="7.9" fill="#222" stroke="#222" stroke-width="0.15" text-anchor="middle" textLength="22.6" lengthAdjust="spacingAndGlyphs">GVHD</text>
<text x="456.4" y="213.5" font-size="7.9" fill="#222" stroke="#222" stroke-width="0.15" text-anchor="middle" textLength="22.4" lengthAdjust="spacingAndGlyphs">Tumor</text>
<text x="492.7" y="213.5" font-size="7.9" fill="#222" stroke="#222" stroke-width="0.15" text-anchor="middle" textLength="26.9" lengthAdjust="spacingAndGlyphs">Median</text>
<text x="492.7" y="223.0" font-size="7.9" fill="#222" stroke="#222" stroke-width="0.15" text-anchor="middle" textLength="28.5" lengthAdjust="spacingAndGlyphs">survival</text>
<text x="492.7" y="231.9" font-size="7.9" fill="#222" stroke="#222" stroke-width="0.15" text-anchor="middle" textLength="16.5" lengthAdjust="spacingAndGlyphs">days</text>
<text x="277" y="246.5" font-size="7.9" fill="#222" stroke="#222" stroke-width="0.15" text-anchor="middle">TCD-BM</text>
<text x="314.3" y="246.5" font-size="7.9" fill="#222" stroke="#222" stroke-width="0.15" text-anchor="middle">0/7</text>
<text x="347.2" y="246.5" font-size="7.9" fill="#222" stroke="#222" stroke-width="0.15" text-anchor="middle">7/7</text>
<text x="383.2" y="246.5" font-size="7.9" fill="#222" stroke="#222" stroke-width="0.15" text-anchor="middle">13</text>
<text x="421.8" y="246.5" font-size="7.9" fill="#222" stroke="#222" stroke-width="0.15" text-anchor="middle">0/7</text>
<text x="456.4" y="246.5" font-size="7.9" fill="#222" stroke="#222" stroke-width="0.15" text-anchor="middle">4/7</text>
<text x="492.7" y="246.5" font-size="7.9" fill="#222" stroke="#222" stroke-width="0.15" text-anchor="middle">14</text>
<text x="277" y="259.7" font-size="7.9" fill="#222" stroke="#222" stroke-width="0.15" text-anchor="middle">WT T cell</text>
<text x="314.3" y="259.7" font-size="7.9" fill="#222" stroke="#222" stroke-width="0.15" text-anchor="middle">8/12</text>
<text x="347.2" y="259.7" font-size="7.9" fill="#222" stroke="#222" stroke-width="0.15" text-anchor="middle">9/12</text>
<text x="383.2" y="259.7" font-size="7.9" fill="#222" stroke="#222" stroke-width="0.15" text-anchor="middle">27.5</text>
<text x="421.8" y="259.7" font-size="7.9" fill="#222" stroke="#222" stroke-width="0.15" text-anchor="middle">11/13</text>
<text x="456.4" y="259.7" font-size="7.9" fill="#222" stroke="#222" stroke-width="0.15" text-anchor="middle">1/13</text>
<text x="492.7" y="259.7" font-size="7.9" fill="#222" stroke="#222" stroke-width="0.15" text-anchor="middle">24</text>
<text x="314.3" y="277.7" font-size="7.9" fill="#222" stroke="#222" stroke-width="0.15" text-anchor="middle">0/9</text>
<text x="347.2" y="277.7" font-size="7.9" fill="#222" stroke="#222" stroke-width="0.15" text-anchor="middle">8/9</text>
<text x="383.2" y="277.7" font-size="7.9" fill="#222" stroke="#222" stroke-width="0.15" text-anchor="middle">35</text>
<text x="421.8" y="277.7" font-size="7.9" fill="#222" stroke="#222" stroke-width="0.15" text-anchor="middle">1/10</text>
<text x="456.4" y="277.7" font-size="7.9" fill="#222" stroke="#222" stroke-width="0.15" text-anchor="middle">0/10</text>
<text x="492.7" y="277.7" font-size="7.9" fill="#222" stroke="#222" stroke-width="0.15" text-anchor="middle">&gt;51</text>
<text x="277" y="273.3" font-size="7.9" fill="#222" stroke="#222" stroke-width="0.15" text-anchor="middle" textLength="35.9" lengthAdjust="spacingAndGlyphs">Id3-cKO T</text>
<text x="277" y="282.0" font-size="7.9" fill="#222" stroke="#222" stroke-width="0.15" text-anchor="middle" textLength="12.5" lengthAdjust="spacingAndGlyphs">cell</text>
<text x="335.8" y="325.1" font-size="8.8" fill="#222" stroke="#222" stroke-width="0.15" textLength="10.7" lengthAdjust="spacingAndGlyphs">B6</text>
<line x1="348.6" y1="322.2" x2="353.5" y2="322.2" stroke="#222" stroke-width="1.1"/>
<path d="M355.8,322.2 L353.0,320.5 L353.0,323.9 Z" fill="#222"/>
<text x="357.5" y="325.1" font-size="8.8" fill="#222" stroke="#222" stroke-width="0.15" textLength="70.8" lengthAdjust="spacingAndGlyphs">Balb/c, A20 cells</text>
<line x1="335.6" y1="326.6" x2="428.6" y2="326.6" stroke="#333" stroke-width="0.8"/>
<line x1="318.4" y1="330.6" x2="318.4" y2="408.8" stroke="#222" stroke-width="1.1"/>
<line x1="316.3" y1="408.3" x2="318.4" y2="408.3" stroke="#222" stroke-width="1.0"/>
<line x1="316.3" y1="394.12" x2="318.4" y2="394.12" stroke="#222" stroke-width="1.0"/>
<line x1="316.3" y1="379.94" x2="318.4" y2="379.94" stroke="#222" stroke-width="1.0"/>
<line x1="316.3" y1="365.76" x2="318.4" y2="365.76" stroke="#222" stroke-width="1.0"/>
<line x1="316.3" y1="351.58" x2="318.4" y2="351.58" stroke="#222" stroke-width="1.0"/>
<line x1="316.3" y1="337.4" x2="318.4" y2="337.4" stroke="#222" stroke-width="1.0"/>
<line x1="317.9" y1="408.5" x2="444.5" y2="408.5" stroke="#222" stroke-width="1.1"/>
<line x1="318.7" y1="408.5" x2="318.7" y2="410.7" stroke="#222" stroke-width="1.0"/>
<line x1="339.2833333333333" y1="408.5" x2="339.2833333333333" y2="410.7" stroke="#222" stroke-width="1.0"/>
<line x1="359.8666666666667" y1="408.5" x2="359.8666666666667" y2="410.7" stroke="#222" stroke-width="1.0"/>
<line x1="380.45" y1="408.5" x2="380.45" y2="410.7" stroke="#222" stroke-width="1.0"/>
<line x1="401.0333333333333" y1="408.5" x2="401.0333333333333" y2="410.7" stroke="#222" stroke-width="1.0"/>
<line x1="421.6166666666667" y1="408.5" x2="421.6166666666667" y2="410.7" stroke="#222" stroke-width="1.0"/>
<line x1="442.2" y1="408.5" x2="442.2" y2="410.7" stroke="#222" stroke-width="1.0"/>
<text x="312.9" y="411.1" font-size="7.8" fill="#333" stroke="#333" stroke-width="0.15" text-anchor="end" textLength="3.85" lengthAdjust="spacingAndGlyphs">0</text>
<text x="312.9" y="396.92" font-size="7.8" fill="#333" stroke="#333" stroke-width="0.15" text-anchor="end" textLength="7.7" lengthAdjust="spacingAndGlyphs">20</text>
<text x="312.9" y="382.74" font-size="7.8" fill="#333" stroke="#333" stroke-width="0.15" text-anchor="end" textLength="7.7" lengthAdjust="spacingAndGlyphs">40</text>
<text x="312.9" y="368.56" font-size="7.8" fill="#333" stroke="#333" stroke-width="0.15" text-anchor="end" textLength="7.7" lengthAdjust="spacingAndGlyphs">60</text>
<text x="312.9" y="354.38" font-size="7.8" fill="#333" stroke="#333" stroke-width="0.15" text-anchor="end" textLength="7.7" lengthAdjust="spacingAndGlyphs">80</text>
<text x="312.9" y="340.2" font-size="7.8" fill="#333" stroke="#333" stroke-width="0.15" text-anchor="end" textLength="11.55" lengthAdjust="spacingAndGlyphs">100</text>
<text x="318.7" y="420.6" font-size="7.8" fill="#333" stroke="#333" stroke-width="0.15" text-anchor="middle" textLength="3.9" lengthAdjust="spacingAndGlyphs">0</text>
<text x="339.2833333333333" y="420.6" font-size="7.8" fill="#333" stroke="#333" stroke-width="0.15" text-anchor="middle" textLength="7.8" lengthAdjust="spacingAndGlyphs">10</text>
<text x="359.8666666666667" y="420.6" font-size="7.8" fill="#333" stroke="#333" stroke-width="0.15" text-anchor="middle" textLength="7.8" lengthAdjust="spacingAndGlyphs">20</text>
<text x="380.45" y="420.6" font-size="7.8" fill="#333" stroke="#333" stroke-width="0.15" text-anchor="middle" textLength="7.8" lengthAdjust="spacingAndGlyphs">30</text>
<text x="401.0333333333333" y="420.6" font-size="7.8" fill="#333" stroke="#333" stroke-width="0.15" text-anchor="middle" textLength="7.8" lengthAdjust="spacingAndGlyphs">40</text>
<text x="421.6166666666667" y="420.6" font-size="7.8" fill="#333" stroke="#333" stroke-width="0.15" text-anchor="middle" textLength="7.8" lengthAdjust="spacingAndGlyphs">50</text>
<text x="442.2" y="420.6" font-size="7.8" fill="#333" stroke="#333" stroke-width="0.15" text-anchor="middle" textLength="7.8" lengthAdjust="spacingAndGlyphs">60</text>
<text x="339.8" y="433.6" font-size="8.4" fill="#333" stroke="#333" stroke-width="0.15" textLength="84.7" lengthAdjust="spacingAndGlyphs">Days after transplantation</text>
<text x="0" y="0" font-size="8.2" fill="#333" stroke="#333" stroke-width="0.15" text-anchor="middle" textLength="72.3" lengthAdjust="spacingAndGlyphs" transform="translate(294.6,369.6) rotate(-90)">Probability of survival</text>
<path d="M318.70,337.40 L337.90,337.40 L337.90,344.49 L421.50,344.49" stroke="#7e7eb0" stroke-width="1.0" fill="none" stroke-linejoin="miter"/>
<path d="M421.50,342.69 L423.07,345.39 L419.93,345.39 Z" stroke="#7e7eb0" stroke-width="0.6" fill="#7e7eb0"/>
<path d="M318.70,337.12 L336.80,337.12 L336.80,342.86 L339.00,342.86 L339.00,347.33 L345.50,347.33 L345.50,353.78 L351.40,353.78 L351.40,359.24 L359.60,359.24 L359.60,364.70 L362.20,364.70 L362.20,370.16 L368.10,370.16 L368.10,375.54 L384.50,375.54 L384.50,386.46 L403.40,386.46 L403.40,397.38 L421.90,397.38" stroke="#d43a5c" stroke-width="1.2" fill="none" stroke-linejoin="miter"/>
<path d="M318.70,337.40 L343.60,337.40 L343.60,357.68 L347.60,357.68 L347.60,377.88 L415.60,377.88 L415.60,388.02 L421.90,388.02" stroke="#3a6c9e" stroke-width="1.25" fill="none" stroke-linejoin="miter"/>
<rect x="335.35" y="339.35" width="2.9" height="2.9" stroke="#d43a5c" stroke-width="1.0" fill="#f8d8e0"/>
<rect x="337.55" y="343.05" width="2.9" height="2.9" stroke="#d43a5c" stroke-width="1.0" fill="#f8d8e0"/>
<rect x="344.05" y="352.33" width="2.9" height="2.9" stroke="#d43a5c" stroke-width="1.0" fill="#f8d8e0"/>
<rect x="349.95" y="357.79" width="2.9" height="2.9" stroke="#d43a5c" stroke-width="1.0" fill="#f8d8e0"/>
<rect x="358.15" y="363.25" width="2.9" height="2.9" stroke="#d43a5c" stroke-width="1.0" fill="#f8d8e0"/>
<rect x="360.75" y="368.71" width="2.9" height="2.9" stroke="#d43a5c" stroke-width="1.0" fill="#f8d8e0"/>
<rect x="366.65" y="374.09" width="2.9" height="2.9" stroke="#d43a5c" stroke-width="1.0" fill="#f8d8e0"/>
<rect x="383.05" y="385.01" width="2.9" height="2.9" stroke="#d43a5c" stroke-width="1.0" fill="#f8d8e0"/>
<rect x="401.95" y="395.93" width="2.9" height="2.9" stroke="#d43a5c" stroke-width="1.0" fill="#f8d8e0"/>
<rect x="420.45" y="395.93" width="2.9" height="2.9" stroke="#d43a5c" stroke-width="1.0" fill="#f8d8e0"/>
<circle cx="343.60" cy="357.68" r="1.75" stroke="#3a6c9e" stroke-width="0.9" fill="#fff"/>
<circle cx="347.60" cy="377.88" r="1.75" stroke="#3a6c9e" stroke-width="0.9" fill="#fff"/>
<circle cx="415.60" cy="388.02" r="1.75" stroke="#3a6c9e" stroke-width="0.9" fill="#fff"/>
<circle cx="421.90" cy="388.02" r="1.75" stroke="#3a6c9e" stroke-width="0.9" fill="#fff"/>
<circle cx="451.30" cy="330.20" r="2.4" stroke="#3a6c9e" stroke-width="1.0" fill="#fff"/>
<rect x="449.20" y="354.00" width="4.2" height="4.2" stroke="#d43a5c" stroke-width="1.0" fill="#fff"/>
<path d="M451.30,386.50 L453.40,390.10 L449.20,390.10 Z" stroke="#7e7eb0" stroke-width="0.6" fill="#7e7eb0"/>
<text x="456.9" y="332.9" font-size="7.5" fill="#333" stroke="#333" stroke-width="0.15" textLength="31.2" lengthAdjust="spacingAndGlyphs">TCD-BM</text>
<text x="456.9" y="342.6" font-size="7.5" fill="#333" stroke="#333" stroke-width="0.15" textLength="17" lengthAdjust="spacingAndGlyphs">n = 7</text>
<text x="456.9" y="358.8" font-size="7.5" fill="#333" stroke="#333" stroke-width="0.15" textLength="33.2" lengthAdjust="spacingAndGlyphs">WT T cell</text>
<text x="456.9" y="369.0" font-size="7.5" fill="#333" stroke="#333" stroke-width="0.15" textLength="23.3" lengthAdjust="spacingAndGlyphs">n = 13</text>
<text x="456.9" y="391.5" font-size="7.5" fill="#333" stroke="#333" stroke-width="0.15" textLength="30.5" lengthAdjust="spacingAndGlyphs">Id3-cKO</text>
<text x="456.9" y="401.3" font-size="7.5" fill="#333" stroke="#333" stroke-width="0.15" textLength="19" lengthAdjust="spacingAndGlyphs">T cell</text>
<text x="456.9" y="410.7" font-size="7.5" fill="#333" stroke="#333" stroke-width="0.15" textLength="23.7" lengthAdjust="spacingAndGlyphs">n = 10</text>
<path d="M505.50,330.20 L508.80,330.20 L508.80,348.20" stroke="#333" stroke-width="1.0" fill="none" stroke-linejoin="miter"/>
<path d="M508.80,360.60 L508.80,406.90 L504.30,406.90" stroke="#333" stroke-width="1.0" fill="none" stroke-linejoin="miter"/>
<circle cx="508.80" cy="353.90" r="0.95" stroke="#333" stroke-width="0" fill="#333"/>
<path d="M495.30,358.80 L501.00,358.80 L501.00,374.20" stroke="#333" stroke-width="1.0" fill="none" stroke-linejoin="miter"/>
<path d="M501.00,387.70 L501.00,407.60 L494.20,407.60" stroke="#333" stroke-width="1.0" fill="none" stroke-linejoin="miter"/>
<circle cx="497.60" cy="381.00" r="0.95" stroke="#333" stroke-width="0" fill="#333"/>
<circle cx="500.80" cy="381.00" r="0.95" stroke="#333" stroke-width="0" fill="#333"/>
<defs><filter id="bl" x="-30%" y="-30%" width="160%" height="160%"><feGaussianBlur stdDeviation="0.55"/></filter><filter id="fur" x="-20%" y="-20%" width="140%" height="140%"><feTurbulence type="fractalNoise" baseFrequency="0.22" numOctaves="2" seed="4" result="noise"/><feColorMatrix in="noise" type="matrix" values="0 0 0 0 0  0 0 0 0 0  0 0 0 0 0  1.1 0 0 0 -0.43" result="shade"/><feComposite in="shade" in2="SourceAlpha" operator="in" result="shadeIn"/><feMerge result="m"><feMergeNode in="SourceGraphic"/><feMergeNode in="shadeIn"/></feMerge><feGaussianBlur in="m" stdDeviation="0.45"/></filter><filter id="bl2" x="-50%" y="-50%" width="200%" height="200%"><feGaussianBlur stdDeviation="0.9"/></filter><linearGradient id="gm1" x1="0" y1="0" x2="0" y2="1"><stop offset="0" stop-color="#a8a8a8"/><stop offset="0.3" stop-color="#cfcfcf"/><stop offset="0.6" stop-color="#ececec"/><stop offset="0.9" stop-color="#e2e2e2"/><stop offset="1" stop-color="#b0b0b0"/></linearGradient><linearGradient id="gm2" x1="0" y1="0" x2="0" y2="1"><stop offset="0" stop-color="#909090"/><stop offset="0.3" stop-color="#b4b4b4"/><stop offset="0.6" stop-color="#cdcdcd"/><stop offset="0.9" stop-color="#c4c4c4"/><stop offset="1" stop-color="#989898"/></linearGradient><linearGradient id="gm3" x1="0" y1="0" x2="0" y2="1"><stop offset="0" stop-color="#808080"/><stop offset="0.3" stop-color="#a0a0a0"/><stop offset="0.6" stop-color="#b4b4b4"/><stop offset="0.9" stop-color="#acacac"/><stop offset="1" stop-color="#888888"/></linearGradient><radialGradient id="ge" cx="50%" cy="60%" r="58%"><stop offset="0" stop-color="#000" stop-opacity="0"/><stop offset="0.72" stop-color="#000" stop-opacity="0.04"/><stop offset="1" stop-color="#000" stop-opacity="0.5"/></radialGradient></defs>
<text x="46.2" y="320.0" font-size="8.4" fill="#222" stroke="#222" stroke-width="0.15" textLength="30.3" lengthAdjust="spacingAndGlyphs">TCD-BM</text>
<text x="117.7" y="320.2" font-size="8.4" fill="#222" stroke="#222" stroke-width="0.15" textLength="18.7" lengthAdjust="spacingAndGlyphs">WT T</text>
<text x="200.8" y="320.4" font-size="8.4" fill="#222" stroke="#222" stroke-width="0.15" textLength="35.5" lengthAdjust="spacingAndGlyphs">Id3-cKO T</text>
<text x="11.2" y="345.0" font-size="8.4" fill="#222" stroke="#222" stroke-width="0.15" textLength="19.6" lengthAdjust="spacingAndGlyphs">Day 7</text>
<text x="6.7" y="384.4" font-size="8.4" fill="#222" stroke="#222" stroke-width="0.15" textLength="24.5" lengthAdjust="spacingAndGlyphs">Day 14</text>
<text x="6.7" y="419.4" font-size="8.4" fill="#222" stroke="#222" stroke-width="0.15" textLength="24.5" lengthAdjust="spacingAndGlyphs">Day 34</text>
<text x="43.8" y="384.4" font-size="8.4" fill="#222" stroke="#222" stroke-width="0.15" text-anchor="middle">X</text>
<text x="67.7" y="415.2" font-size="8.4" fill="#222" stroke="#222" stroke-width="0.15" text-anchor="middle">X</text>
<text x="82.7" y="415.2" font-size="8.4" fill="#222" stroke="#222" stroke-width="0.15" text-anchor="middle">X</text>
<text x="56.7" y="425.2" font-size="8.4" fill="#222" stroke="#222" stroke-width="0.15" textLength="33.7" lengthAdjust="spacingAndGlyphs">Leukemia</text>
<text x="63.8" y="434.4" font-size="8.4" fill="#222" stroke="#222" stroke-width="0.15" textLength="20.4" lengthAdjust="spacingAndGlyphs">death</text>
<rect x="34.5" y="325.2" width="55.80" height="35.20" fill="#060606"/>
<path d="M42.50,328.00 C43.00,328.00 43.57,327.86 44.01,328.00 C44.45,328.14 44.85,328.38 45.15,328.86 C45.44,329.33 45.59,330.19 45.78,330.85 C45.96,331.52 45.99,332.23 46.28,332.85 C46.57,333.46 47.41,333.99 47.54,334.56 C47.67,335.12 46.97,335.55 47.04,336.26 C47.10,336.98 47.67,337.83 47.92,338.83 C48.17,339.83 48.40,340.97 48.55,342.25 C48.69,343.53 48.76,345.10 48.80,346.52 C48.84,347.95 48.86,349.52 48.80,350.80 C48.74,352.08 48.84,353.32 48.42,354.22 C48.00,355.12 47.27,355.83 46.28,356.21 C45.29,356.59 43.76,356.50 42.50,356.50 C41.24,356.50 39.71,356.59 38.72,356.21 C37.73,355.83 37.00,355.12 36.58,354.22 C36.16,353.32 36.26,352.08 36.20,350.80 C36.14,349.52 36.16,347.95 36.20,346.52 C36.24,345.10 36.31,343.53 36.45,342.25 C36.60,340.97 36.83,339.83 37.08,338.83 C37.33,337.83 37.90,336.98 37.96,336.26 C38.03,335.55 37.33,335.12 37.46,334.56 C37.59,333.99 38.43,333.46 38.72,332.85 C39.01,332.23 39.04,331.52 39.22,330.85 C39.41,330.19 39.56,329.33 39.85,328.86 C40.15,328.38 40.55,328.14 40.99,328.00 C41.43,327.86 42.00,328.00 42.50,328.00 Z" fill="url(#gm1)" filter="url(#fur)"/>
<path d="M42.50,328.00 C43.00,328.00 43.57,327.86 44.01,328.00 C44.45,328.14 44.85,328.38 45.15,328.86 C45.44,329.33 45.59,330.19 45.78,330.85 C45.96,331.52 45.99,332.23 46.28,332.85 C46.57,333.46 47.41,333.99 47.54,334.56 C47.67,335.12 46.97,335.55 47.04,336.26 C47.10,336.98 47.67,337.83 47.92,338.83 C48.17,339.83 48.40,340.97 48.55,342.25 C48.69,343.53 48.76,345.10 48.80,346.52 C48.84,347.95 48.86,349.52 48.80,350.80 C48.74,352.08 48.84,353.32 48.42,354.22 C48.00,355.12 47.27,355.83 46.28,356.21 C45.29,356.59 43.76,356.50 42.50,356.50 C41.24,356.50 39.71,356.59 38.72,356.21 C37.73,355.83 37.00,355.12 36.58,354.22 C36.16,353.32 36.26,352.08 36.20,350.80 C36.14,349.52 36.16,347.95 36.20,346.52 C36.24,345.10 36.31,343.53 36.45,342.25 C36.60,340.97 36.83,339.83 37.08,338.83 C37.33,337.83 37.90,336.98 37.96,336.26 C38.03,335.55 37.33,335.12 37.46,334.56 C37.59,333.99 38.43,333.46 38.72,332.85 C39.01,332.23 39.04,331.52 39.22,330.85 C39.41,330.19 39.56,329.33 39.85,328.86 C40.15,328.38 40.55,328.14 40.99,328.00 C41.43,327.86 42.00,328.00 42.50,328.00 Z" fill="url(#ge)" filter="url(#bl)"/>
<path d="M38.47,355.00 L37.96,358.10 M46.53,355.00 L47.04,358.10 M42.50,355.50 L42.70,359.30" stroke="#888" stroke-width="0.9" filter="url(#bl)"/>
<ellipse cx="42.40" cy="332.60" rx="3.0" ry="3.0" fill="#3a9a84" opacity="0.9" filter="url(#bl)"/>
<ellipse cx="43.00" cy="333.00" rx="1.4" ry="1.4" fill="#8ad0c0" opacity="0.8" filter="url(#bl)"/>
<ellipse cx="41.20" cy="340.30" rx="2.3" ry="2.2" fill="#2a7a68" opacity="0.9" filter="url(#bl)"/>
<ellipse cx="41.20" cy="340.30" rx="1.0" ry="1.0" fill="#e8f0ec" opacity="1" filter="url(#bl)"/>
<ellipse cx="38.60" cy="338.50" rx="0.9" ry="2.2" fill="#3848c0" opacity="0.8" filter="url(#bl)"/>
<ellipse cx="45.60" cy="346.00" rx="1.3" ry="2.2" fill="#2838b0" opacity="1" filter="url(#bl)"/>
<ellipse cx="43.80" cy="349.00" rx="1.3" ry="2.0" fill="#2838b0" opacity="1" filter="url(#bl)"/>
<ellipse cx="41.50" cy="351.80" rx="1.3" ry="1.6" fill="#3040b8" opacity="0.9" filter="url(#bl)"/>
<ellipse cx="39.50" cy="347.00" rx="0.9" ry="1.2" fill="#5060c8" opacity="0.7" filter="url(#bl)"/>
<rect x="35.5" y="355.2" width="3.80" height="2.60" fill="#e0e0e0"/>
<path d="M60.60,328.00 C61.17,328.00 61.81,327.86 62.30,328.00 C62.80,328.14 63.25,328.38 63.58,328.86 C63.91,329.33 64.08,330.19 64.29,330.85 C64.50,331.52 64.53,332.23 64.86,332.85 C65.19,333.46 66.14,333.99 66.28,334.56 C66.42,335.12 65.64,335.55 65.71,336.26 C65.78,336.98 66.42,337.83 66.71,338.83 C66.99,339.83 67.25,340.97 67.42,342.25 C67.58,343.53 67.65,345.10 67.70,346.52 C67.75,347.95 67.77,349.52 67.70,350.80 C67.63,352.08 67.75,353.32 67.27,354.22 C66.80,355.12 65.97,355.83 64.86,356.21 C63.75,356.59 62.02,356.50 60.60,356.50 C59.18,356.50 57.45,356.59 56.34,356.21 C55.23,355.83 54.40,355.12 53.93,354.22 C53.45,353.32 53.57,352.08 53.50,350.80 C53.43,349.52 53.45,347.95 53.50,346.52 C53.55,345.10 53.62,343.53 53.78,342.25 C53.95,340.97 54.21,339.83 54.49,338.83 C54.78,337.83 55.42,336.98 55.49,336.26 C55.56,335.55 54.78,335.12 54.92,334.56 C55.06,333.99 56.01,333.46 56.34,332.85 C56.67,332.23 56.70,331.52 56.91,330.85 C57.12,330.19 57.29,329.33 57.62,328.86 C57.95,328.38 58.40,328.14 58.90,328.00 C59.39,327.86 60.03,328.00 60.60,328.00 Z" fill="url(#gm2)" filter="url(#fur)"/>
<path d="M60.60,328.00 C61.17,328.00 61.81,327.86 62.30,328.00 C62.80,328.14 63.25,328.38 63.58,328.86 C63.91,329.33 64.08,330.19 64.29,330.85 C64.50,331.52 64.53,332.23 64.86,332.85 C65.19,333.46 66.14,333.99 66.28,334.56 C66.42,335.12 65.64,335.55 65.71,336.26 C65.78,336.98 66.42,337.83 66.71,338.83 C66.99,339.83 67.25,340.97 67.42,342.25 C67.58,343.53 67.65,345.10 67.70,346.52 C67.75,347.95 67.77,349.52 67.70,350.80 C67.63,352.08 67.75,353.32 67.27,354.22 C66.80,355.12 65.97,355.83 64.86,356.21 C63.75,356.59 62.02,356.50 60.60,356.50 C59.18,356.50 57.45,356.59 56.34,356.21 C55.23,355.83 54.40,355.12 53.93,354.22 C53.45,353.32 53.57,352.08 53.50,350.80 C53.43,349.52 53.45,347.95 53.50,346.52 C53.55,345.10 53.62,343.53 53.78,342.25 C53.95,340.97 54.21,339.83 54.49,338.83 C54.78,337.83 55.42,336.98 55.49,336.26 C55.56,335.55 54.78,335.12 54.92,334.56 C55.06,333.99 56.01,333.46 56.34,332.85 C56.67,332.23 56.70,331.52 56.91,330.85 C57.12,330.19 57.29,329.33 57.62,328.86 C57.95,328.38 58.40,328.14 58.90,328.00 C59.39,327.86 60.03,328.00 60.60,328.00 Z" fill="url(#ge)" filter="url(#bl)"/>
<path d="M56.06,355.00 L55.49,358.10 M65.14,355.00 L65.71,358.10 M60.60,355.50 L60.80,359.30" stroke="#888" stroke-width="0.9" filter="url(#bl)"/>
<path d="M80.45,328.00 C81.09,328.00 81.82,327.86 82.38,328.00 C82.95,328.14 83.46,328.39 83.83,328.87 C84.21,329.35 84.39,330.22 84.64,330.90 C84.88,331.58 84.90,332.30 85.28,332.93 C85.66,333.56 86.73,334.09 86.89,334.67 C87.05,335.25 86.17,335.69 86.25,336.41 C86.33,337.13 87.05,338.00 87.37,339.02 C87.70,340.03 87.99,341.19 88.18,342.50 C88.37,343.81 88.45,345.40 88.50,346.85 C88.55,348.30 88.58,349.89 88.50,351.20 C88.42,352.50 88.55,353.76 88.02,354.68 C87.48,355.60 86.54,356.32 85.28,356.71 C84.02,357.10 82.06,357.00 80.45,357.00 C78.84,357.00 76.88,357.10 75.62,356.71 C74.36,356.32 73.42,355.60 72.88,354.68 C72.35,353.76 72.48,352.50 72.40,351.20 C72.32,349.89 72.35,348.30 72.40,346.85 C72.45,345.40 72.53,343.81 72.72,342.50 C72.91,341.19 73.20,340.03 73.53,339.02 C73.85,338.00 74.57,337.13 74.65,336.41 C74.73,335.69 73.85,335.25 74.01,334.67 C74.17,334.09 75.24,333.56 75.62,332.93 C76.00,332.30 76.02,331.58 76.26,330.90 C76.51,330.22 76.69,329.35 77.07,328.87 C77.44,328.39 77.95,328.14 78.52,328.00 C79.08,327.86 79.81,328.00 80.45,328.00 Z" fill="url(#gm1)" filter="url(#fur)"/>
<path d="M80.45,328.00 C81.09,328.00 81.82,327.86 82.38,328.00 C82.95,328.14 83.46,328.39 83.83,328.87 C84.21,329.35 84.39,330.22 84.64,330.90 C84.88,331.58 84.90,332.30 85.28,332.93 C85.66,333.56 86.73,334.09 86.89,334.67 C87.05,335.25 86.17,335.69 86.25,336.41 C86.33,337.13 87.05,338.00 87.37,339.02 C87.70,340.03 87.99,341.19 88.18,342.50 C88.37,343.81 88.45,345.40 88.50,346.85 C88.55,348.30 88.58,349.89 88.50,351.20 C88.42,352.50 88.55,353.76 88.02,354.68 C87.48,355.60 86.54,356.32 85.28,356.71 C84.02,357.10 82.06,357.00 80.45,357.00 C78.84,357.00 76.88,357.10 75.62,356.71 C74.36,356.32 73.42,355.60 72.88,354.68 C72.35,353.76 72.48,352.50 72.40,351.20 C72.32,349.89 72.35,348.30 72.40,346.85 C72.45,345.40 72.53,343.81 72.72,342.50 C72.91,341.19 73.20,340.03 73.53,339.02 C73.85,338.00 74.57,337.13 74.65,336.41 C74.73,335.69 73.85,335.25 74.01,334.67 C74.17,334.09 75.24,333.56 75.62,332.93 C76.00,332.30 76.02,331.58 76.26,330.90 C76.51,330.22 76.69,329.35 77.07,328.87 C77.44,328.39 77.95,328.14 78.52,328.00 C79.08,327.86 79.81,328.00 80.45,328.00 Z" fill="url(#ge)" filter="url(#bl)"/>
<path d="M75.30,355.50 L74.65,358.60 M85.60,355.50 L86.25,358.60 M80.45,356.00 L80.65,359.80" stroke="#888" stroke-width="0.9" filter="url(#bl)"/>
<rect x="93.4" y="325.0" width="80.80" height="35.50" fill="#060606"/>
<rect x="155.2" y="325.0" width="19.00" height="35.50" fill="#141414"/>
<path d="M100.95,327.50 C101.46,327.50 102.03,327.36 102.47,327.50 C102.92,327.64 103.32,327.89 103.62,328.37 C103.91,328.85 104.06,329.72 104.25,330.40 C104.44,331.08 104.46,331.80 104.76,332.43 C105.06,333.06 105.90,333.59 106.03,334.17 C106.16,334.75 105.46,335.19 105.52,335.91 C105.59,336.63 106.16,337.50 106.41,338.52 C106.66,339.53 106.90,340.69 107.05,342.00 C107.19,343.31 107.26,344.90 107.30,346.35 C107.34,347.80 107.36,349.39 107.30,350.70 C107.24,352.00 107.34,353.26 106.92,354.18 C106.50,355.10 105.75,355.82 104.76,356.21 C103.77,356.60 102.22,356.50 100.95,356.50 C99.68,356.50 98.13,356.60 97.14,356.21 C96.15,355.82 95.40,355.10 94.98,354.18 C94.56,353.26 94.66,352.00 94.60,350.70 C94.54,349.39 94.56,347.80 94.60,346.35 C94.64,344.90 94.71,343.31 94.85,342.00 C95.00,340.69 95.23,339.53 95.49,338.52 C95.74,337.50 96.31,336.63 96.38,335.91 C96.44,335.19 95.74,334.75 95.87,334.17 C96.00,333.59 96.84,333.06 97.14,332.43 C97.44,331.80 97.46,331.08 97.65,330.40 C97.84,329.72 97.99,328.85 98.28,328.37 C98.58,327.89 98.98,327.64 99.43,327.50 C99.87,327.36 100.44,327.50 100.95,327.50 Z" fill="url(#gm1)" filter="url(#fur)"/>
<path d="M100.95,327.50 C101.46,327.50 102.03,327.36 102.47,327.50 C102.92,327.64 103.32,327.89 103.62,328.37 C103.91,328.85 104.06,329.72 104.25,330.40 C104.44,331.08 104.46,331.80 104.76,332.43 C105.06,333.06 105.90,333.59 106.03,334.17 C106.16,334.75 105.46,335.19 105.52,335.91 C105.59,336.63 106.16,337.50 106.41,338.52 C106.66,339.53 106.90,340.69 107.05,342.00 C107.19,343.31 107.26,344.90 107.30,346.35 C107.34,347.80 107.36,349.39 107.30,350.70 C107.24,352.00 107.34,353.26 106.92,354.18 C106.50,355.10 105.75,355.82 104.76,356.21 C103.77,356.60 102.22,356.50 100.95,356.50 C99.68,356.50 98.13,356.60 97.14,356.21 C96.15,355.82 95.40,355.10 94.98,354.18 C94.56,353.26 94.66,352.00 94.60,350.70 C94.54,349.39 94.56,347.80 94.60,346.35 C94.64,344.90 94.71,343.31 94.85,342.00 C95.00,340.69 95.23,339.53 95.49,338.52 C95.74,337.50 96.31,336.63 96.38,335.91 C96.44,335.19 95.74,334.75 95.87,334.17 C96.00,333.59 96.84,333.06 97.14,332.43 C97.44,331.80 97.46,331.08 97.65,330.40 C97.84,329.72 97.99,328.85 98.28,328.37 C98.58,327.89 98.98,327.64 99.43,327.50 C99.87,327.36 100.44,327.50 100.95,327.50 Z" fill="url(#ge)" filter="url(#bl)"/>
<path d="M96.89,355.00 L96.38,358.10 M105.01,355.00 L105.52,358.10 M100.95,355.50 L101.15,359.30" stroke="#888" stroke-width="0.9" filter="url(#bl)"/>
<ellipse cx="100.60" cy="332.00" rx="2.6" ry="2.0" fill="#4a58c8" opacity="0.9" filter="url(#bl)"/>
<ellipse cx="99.80" cy="339.20" rx="2.6" ry="1.9" fill="#3040b0" opacity="1" filter="url(#bl)"/>
<ellipse cx="99.80" cy="339.20" rx="1.0" ry="0.8" fill="#d8e0f0" opacity="0.8" filter="url(#bl)"/>
<ellipse cx="104.50" cy="335.00" rx="1.0" ry="1.6" fill="#5060c8" opacity="0.7" filter="url(#bl)"/>
<ellipse cx="101.50" cy="345.00" rx="1.2" ry="1.2" fill="#c8b060" opacity="0.6" filter="url(#bl)"/>
<path d="M115.50,328.00 C116.02,328.00 116.61,327.86 117.06,328.00 C117.52,328.14 117.93,328.38 118.23,328.86 C118.53,329.33 118.69,330.19 118.88,330.85 C119.07,331.52 119.10,332.23 119.40,332.85 C119.70,333.46 120.57,333.99 120.70,334.56 C120.83,335.12 120.12,335.55 120.18,336.26 C120.25,336.98 120.83,337.83 121.09,338.83 C121.35,339.83 121.59,340.97 121.74,342.25 C121.89,343.53 121.96,345.10 122.00,346.52 C122.04,347.95 122.06,349.52 122.00,350.80 C121.94,352.08 122.04,353.32 121.61,354.22 C121.18,355.12 120.42,355.83 119.40,356.21 C118.38,356.59 116.80,356.50 115.50,356.50 C114.20,356.50 112.62,356.59 111.60,356.21 C110.58,355.83 109.82,355.12 109.39,354.22 C108.96,353.32 109.06,352.08 109.00,350.80 C108.94,349.52 108.96,347.95 109.00,346.52 C109.04,345.10 109.11,343.53 109.26,342.25 C109.41,340.97 109.65,339.83 109.91,338.83 C110.17,337.83 110.75,336.98 110.82,336.26 C110.88,335.55 110.17,335.12 110.30,334.56 C110.43,333.99 111.30,333.46 111.60,332.85 C111.90,332.23 111.93,331.52 112.12,330.85 C112.31,330.19 112.47,329.33 112.77,328.86 C113.07,328.38 113.48,328.14 113.94,328.00 C114.39,327.86 114.98,328.00 115.50,328.00 Z" fill="url(#gm1)" filter="url(#fur)"/>
<path d="M115.50,328.00 C116.02,328.00 116.61,327.86 117.06,328.00 C117.52,328.14 117.93,328.38 118.23,328.86 C118.53,329.33 118.69,330.19 118.88,330.85 C119.07,331.52 119.10,332.23 119.40,332.85 C119.70,333.46 120.57,333.99 120.70,334.56 C120.83,335.12 120.12,335.55 120.18,336.26 C120.25,336.98 120.83,337.83 121.09,338.83 C121.35,339.83 121.59,340.97 121.74,342.25 C121.89,343.53 121.96,345.10 122.00,346.52 C122.04,347.95 122.06,349.52 122.00,350.80 C121.94,352.08 122.04,353.32 121.61,354.22 C121.18,355.12 120.42,355.83 119.40,356.21 C118.38,356.59 116.80,356.50 115.50,356.50 C114.20,356.50 112.62,356.59 111.60,356.21 C110.58,355.83 109.82,355.12 109.39,354.22 C108.96,353.32 109.06,352.08 109.00,350.80 C108.94,349.52 108.96,347.95 109.00,346.52 C109.04,345.10 109.11,343.53 109.26,342.25 C109.41,340.97 109.65,339.83 109.91,338.83 C110.17,337.83 110.75,336.98 110.82,336.26 C110.88,335.55 110.17,335.12 110.30,334.56 C110.43,333.99 111.30,333.46 111.60,332.85 C111.90,332.23 111.93,331.52 112.12,330.85 C112.31,330.19 112.47,329.33 112.77,328.86 C113.07,328.38 113.48,328.14 113.94,328.00 C114.39,327.86 114.98,328.00 115.50,328.00 Z" fill="url(#ge)" filter="url(#bl)"/>
<path d="M111.34,355.00 L110.82,358.10 M119.66,355.00 L120.18,358.10 M115.50,355.50 L115.70,359.30" stroke="#888" stroke-width="0.9" filter="url(#bl)"/>
<path d="M131.95,328.00 C132.47,328.00 133.05,327.86 133.50,328.00 C133.95,328.14 134.36,328.38 134.66,328.86 C134.96,329.33 135.11,330.19 135.30,330.85 C135.50,331.52 135.52,332.23 135.82,332.85 C136.12,333.46 136.98,333.99 137.11,334.56 C137.24,335.12 136.53,335.55 136.59,336.26 C136.66,336.98 137.24,337.83 137.50,338.83 C137.75,339.83 137.99,340.97 138.14,342.25 C138.29,343.53 138.36,345.10 138.40,346.52 C138.44,347.95 138.46,349.52 138.40,350.80 C138.34,352.08 138.44,353.32 138.01,354.22 C137.58,355.12 136.83,355.83 135.82,356.21 C134.81,356.59 133.24,356.50 131.95,356.50 C130.66,356.50 129.09,356.59 128.08,356.21 C127.07,355.83 126.32,355.12 125.89,354.22 C125.46,353.32 125.56,352.08 125.50,350.80 C125.44,349.52 125.46,347.95 125.50,346.52 C125.54,345.10 125.61,343.53 125.76,342.25 C125.91,340.97 126.14,339.83 126.40,338.83 C126.66,337.83 127.24,336.98 127.31,336.26 C127.37,335.55 126.66,335.12 126.79,334.56 C126.92,333.99 127.78,333.46 128.08,332.85 C128.38,332.23 128.40,331.52 128.60,330.85 C128.79,330.19 128.94,329.33 129.24,328.86 C129.54,328.38 129.95,328.14 130.40,328.00 C130.85,327.86 131.43,328.00 131.95,328.00 Z" fill="url(#gm1)" filter="url(#fur)"/>
<path d="M131.95,328.00 C132.47,328.00 133.05,327.86 133.50,328.00 C133.95,328.14 134.36,328.38 134.66,328.86 C134.96,329.33 135.11,330.19 135.30,330.85 C135.50,331.52 135.52,332.23 135.82,332.85 C136.12,333.46 136.98,333.99 137.11,334.56 C137.24,335.12 136.53,335.55 136.59,336.26 C136.66,336.98 137.24,337.83 137.50,338.83 C137.75,339.83 137.99,340.97 138.14,342.25 C138.29,343.53 138.36,345.10 138.40,346.52 C138.44,347.95 138.46,349.52 138.40,350.80 C138.34,352.08 138.44,353.32 138.01,354.22 C137.58,355.12 136.83,355.83 135.82,356.21 C134.81,356.59 133.24,356.50 131.95,356.50 C130.66,356.50 129.09,356.59 128.08,356.21 C127.07,355.83 126.32,355.12 125.89,354.22 C125.46,353.32 125.56,352.08 125.50,350.80 C125.44,349.52 125.46,347.95 125.50,346.52 C125.54,345.10 125.61,343.53 125.76,342.25 C125.91,340.97 126.14,339.83 126.40,338.83 C126.66,337.83 127.24,336.98 127.31,336.26 C127.37,335.55 126.66,335.12 126.79,334.56 C126.92,333.99 127.78,333.46 128.08,332.85 C128.38,332.23 128.40,331.52 128.60,330.85 C128.79,330.19 128.94,329.33 129.24,328.86 C129.54,328.38 129.95,328.14 130.40,328.00 C130.85,327.86 131.43,328.00 131.95,328.00 Z" fill="url(#ge)" filter="url(#bl)"/>
<path d="M127.82,355.00 L127.31,358.10 M136.08,355.00 L136.59,358.10 M131.95,355.50 L132.15,359.30" stroke="#888" stroke-width="0.9" filter="url(#bl)"/>
<path d="M147.95,328.00 C148.51,328.00 149.13,327.86 149.62,328.00 C150.10,328.14 150.54,328.38 150.87,328.86 C151.19,329.33 151.36,330.19 151.56,330.85 C151.77,331.52 151.80,332.23 152.12,332.85 C152.44,333.46 153.37,333.99 153.51,334.56 C153.65,335.12 152.88,335.55 152.95,336.26 C153.02,336.98 153.65,337.83 153.93,338.83 C154.20,339.83 154.46,340.97 154.62,342.25 C154.78,343.53 154.85,345.10 154.90,346.52 C154.95,347.95 154.97,349.52 154.90,350.80 C154.83,352.08 154.95,353.32 154.48,354.22 C154.02,355.12 153.21,355.83 152.12,356.21 C151.03,356.59 149.34,356.50 147.95,356.50 C146.56,356.50 144.87,356.59 143.78,356.21 C142.69,355.83 141.88,355.12 141.42,354.22 C140.95,353.32 141.07,352.08 141.00,350.80 C140.93,349.52 140.95,347.95 141.00,346.52 C141.05,345.10 141.12,343.53 141.28,342.25 C141.44,340.97 141.69,339.83 141.97,338.83 C142.25,337.83 142.88,336.98 142.95,336.26 C143.02,335.55 142.25,335.12 142.39,334.56 C142.53,333.99 143.46,333.46 143.78,332.85 C144.10,332.23 144.13,331.52 144.34,330.85 C144.54,330.19 144.71,329.33 145.03,328.86 C145.36,328.38 145.80,328.14 146.28,328.00 C146.77,327.86 147.39,328.00 147.95,328.00 Z" fill="url(#gm1)" filter="url(#fur)"/>
<path d="M147.95,328.00 C148.51,328.00 149.13,327.86 149.62,328.00 C150.10,328.14 150.54,328.38 150.87,328.86 C151.19,329.33 151.36,330.19 151.56,330.85 C151.77,331.52 151.80,332.23 152.12,332.85 C152.44,333.46 153.37,333.99 153.51,334.56 C153.65,335.12 152.88,335.55 152.95,336.26 C153.02,336.98 153.65,337.83 153.93,338.83 C154.20,339.83 154.46,340.97 154.62,342.25 C154.78,343.53 154.85,345.10 154.90,346.52 C154.95,347.95 154.97,349.52 154.90,350.80 C154.83,352.08 154.95,353.32 154.48,354.22 C154.02,355.12 153.21,355.83 152.12,356.21 C151.03,356.59 149.34,356.50 147.95,356.50 C146.56,356.50 144.87,356.59 143.78,356.21 C142.69,355.83 141.88,355.12 141.42,354.22 C140.95,353.32 141.07,352.08 141.00,350.80 C140.93,349.52 140.95,347.95 141.00,346.52 C141.05,345.10 141.12,343.53 141.28,342.25 C141.44,340.97 141.69,339.83 141.97,338.83 C142.25,337.83 142.88,336.98 142.95,336.26 C143.02,335.55 142.25,335.12 142.39,334.56 C142.53,333.99 143.46,333.46 143.78,332.85 C144.10,332.23 144.13,331.52 144.34,330.85 C144.54,330.19 144.71,329.33 145.03,328.86 C145.36,328.38 145.80,328.14 146.28,328.00 C146.77,327.86 147.39,328.00 147.95,328.00 Z" fill="url(#ge)" filter="url(#bl)"/>
<path d="M143.50,355.00 L142.95,358.10 M152.40,355.00 L152.95,358.10 M147.95,355.50 L148.15,359.30" stroke="#888" stroke-width="0.9" filter="url(#bl)"/>
<text x="0" y="0" font-size="7.4" fill="#e8e8e8" stroke="#e8e8e8" stroke-width="0.15" textLength="17.6" lengthAdjust="spacingAndGlyphs" transform="translate(163.7,349.1) rotate(-90)">GVHD</text>
<text x="0" y="0" font-size="7.4" fill="#e8e8e8" stroke="#e8e8e8" stroke-width="0.15" textLength="16.6" lengthAdjust="spacingAndGlyphs" transform="translate(171,348.6) rotate(-90)">death</text>
<rect x="177.2" y="325.1" width="85.50" height="35.50" fill="#060606"/>
<path d="M185.40,328.50 C185.94,328.50 186.54,328.36 187.01,328.50 C187.48,328.64 187.90,328.87 188.21,329.34 C188.53,329.81 188.68,330.65 188.88,331.30 C189.08,331.95 189.11,332.65 189.42,333.26 C189.73,333.87 190.63,334.38 190.76,334.94 C190.89,335.50 190.16,335.92 190.22,336.62 C190.29,337.32 190.89,338.16 191.16,339.14 C191.43,340.12 191.68,341.24 191.83,342.50 C191.99,343.76 192.06,345.30 192.10,346.70 C192.14,348.10 192.17,349.64 192.10,350.90 C192.03,352.16 192.14,353.37 191.70,354.26 C191.25,355.15 190.47,355.85 189.42,356.22 C188.37,356.59 186.74,356.50 185.40,356.50 C184.06,356.50 182.43,356.59 181.38,356.22 C180.33,355.85 179.55,355.15 179.10,354.26 C178.66,353.37 178.77,352.16 178.70,350.90 C178.63,349.64 178.66,348.10 178.70,346.70 C178.74,345.30 178.81,343.76 178.97,342.50 C179.12,341.24 179.37,340.12 179.64,339.14 C179.91,338.16 180.51,337.32 180.58,336.62 C180.64,335.92 179.91,335.50 180.04,334.94 C180.17,334.38 181.07,333.87 181.38,333.26 C181.69,332.65 181.71,331.95 181.92,331.30 C182.12,330.65 182.27,329.81 182.59,329.34 C182.90,328.87 183.32,328.64 183.79,328.50 C184.26,328.36 184.86,328.50 185.40,328.50 Z" fill="url(#gm1)" filter="url(#fur)"/>
<path d="M185.40,328.50 C185.94,328.50 186.54,328.36 187.01,328.50 C187.48,328.64 187.90,328.87 188.21,329.34 C188.53,329.81 188.68,330.65 188.88,331.30 C189.08,331.95 189.11,332.65 189.42,333.26 C189.73,333.87 190.63,334.38 190.76,334.94 C190.89,335.50 190.16,335.92 190.22,336.62 C190.29,337.32 190.89,338.16 191.16,339.14 C191.43,340.12 191.68,341.24 191.83,342.50 C191.99,343.76 192.06,345.30 192.10,346.70 C192.14,348.10 192.17,349.64 192.10,350.90 C192.03,352.16 192.14,353.37 191.70,354.26 C191.25,355.15 190.47,355.85 189.42,356.22 C188.37,356.59 186.74,356.50 185.40,356.50 C184.06,356.50 182.43,356.59 181.38,356.22 C180.33,355.85 179.55,355.15 179.10,354.26 C178.66,353.37 178.77,352.16 178.70,350.90 C178.63,349.64 178.66,348.10 178.70,346.70 C178.74,345.30 178.81,343.76 178.97,342.50 C179.12,341.24 179.37,340.12 179.64,339.14 C179.91,338.16 180.51,337.32 180.58,336.62 C180.64,335.92 179.91,335.50 180.04,334.94 C180.17,334.38 181.07,333.87 181.38,333.26 C181.69,332.65 181.71,331.95 181.92,331.30 C182.12,330.65 182.27,329.81 182.59,329.34 C182.90,328.87 183.32,328.64 183.79,328.50 C184.26,328.36 184.86,328.50 185.40,328.50 Z" fill="url(#ge)" filter="url(#bl)"/>
<path d="M181.11,355.00 L180.58,358.10 M189.69,355.00 L190.22,358.10 M185.40,355.50 L185.60,359.30" stroke="#888" stroke-width="0.9" filter="url(#bl)"/>
<path d="M200.75,328.50 C201.29,328.50 201.90,328.36 202.37,328.50 C202.84,328.64 203.27,328.87 203.59,329.34 C203.90,329.81 204.06,330.65 204.26,331.30 C204.46,331.95 204.49,332.65 204.80,333.26 C205.12,333.87 206.02,334.38 206.15,334.94 C206.28,335.50 205.54,335.92 205.61,336.62 C205.68,337.32 206.29,338.16 206.56,339.14 C206.82,340.12 207.07,341.24 207.23,342.50 C207.39,343.76 207.45,345.30 207.50,346.70 C207.55,348.10 207.57,349.64 207.50,350.90 C207.43,352.16 207.54,353.37 207.09,354.26 C206.65,355.15 205.86,355.85 204.80,356.22 C203.74,356.59 202.10,356.50 200.75,356.50 C199.40,356.50 197.76,356.59 196.70,356.22 C195.64,355.85 194.85,355.15 194.41,354.26 C193.96,353.37 194.07,352.16 194.00,350.90 C193.93,349.64 193.95,348.10 194.00,346.70 C194.05,345.30 194.11,343.76 194.27,342.50 C194.43,341.24 194.68,340.12 194.94,339.14 C195.21,338.16 195.82,337.32 195.89,336.62 C195.96,335.92 195.22,335.50 195.35,334.94 C195.48,334.38 196.38,333.87 196.70,333.26 C197.01,332.65 197.04,331.95 197.24,331.30 C197.44,330.65 197.60,329.81 197.91,329.34 C198.23,328.87 198.66,328.64 199.13,328.50 C199.60,328.36 200.21,328.50 200.75,328.50 Z" fill="url(#gm1)" filter="url(#fur)"/>
<path d="M200.75,328.50 C201.29,328.50 201.90,328.36 202.37,328.50 C202.84,328.64 203.27,328.87 203.59,329.34 C203.90,329.81 204.06,330.65 204.26,331.30 C204.46,331.95 204.49,332.65 204.80,333.26 C205.12,333.87 206.02,334.38 206.15,334.94 C206.28,335.50 205.54,335.92 205.61,336.62 C205.68,337.32 206.29,338.16 206.56,339.14 C206.82,340.12 207.07,341.24 207.23,342.50 C207.39,343.76 207.45,345.30 207.50,346.70 C207.55,348.10 207.57,349.64 207.50,350.90 C207.43,352.16 207.54,353.37 207.09,354.26 C206.65,355.15 205.86,355.85 204.80,356.22 C203.74,356.59 202.10,356.50 200.75,356.50 C199.40,356.50 197.76,356.59 196.70,356.22 C195.64,355.85 194.85,355.15 194.41,354.26 C193.96,353.37 194.07,352.16 194.00,350.90 C193.93,349.64 193.95,348.10 194.00,346.70 C194.05,345.30 194.11,343.76 194.27,342.50 C194.43,341.24 194.68,340.12 194.94,339.14 C195.21,338.16 195.82,337.32 195.89,336.62 C195.96,335.92 195.22,335.50 195.35,334.94 C195.48,334.38 196.38,333.87 196.70,333.26 C197.01,332.65 197.04,331.95 197.24,331.30 C197.44,330.65 197.60,329.81 197.91,329.34 C198.23,328.87 198.66,328.64 199.13,328.50 C199.60,328.36 200.21,328.50 200.75,328.50 Z" fill="url(#ge)" filter="url(#bl)"/>
<path d="M196.43,355.00 L195.89,358.10 M205.07,355.00 L205.61,358.10 M200.75,355.50 L200.95,359.30" stroke="#888" stroke-width="0.9" filter="url(#bl)"/>
<path d="M218.55,328.50 C219.13,328.50 219.78,328.36 220.29,328.50 C220.80,328.64 221.26,328.87 221.59,329.34 C221.93,329.81 222.10,330.65 222.32,331.30 C222.54,331.95 222.56,332.65 222.90,333.26 C223.24,333.87 224.21,334.38 224.35,334.94 C224.50,335.50 223.70,335.92 223.77,336.62 C223.84,337.32 224.50,338.16 224.79,339.14 C225.08,340.12 225.34,341.24 225.51,342.50 C225.68,343.76 225.75,345.30 225.80,346.70 C225.85,348.10 225.87,349.64 225.80,350.90 C225.73,352.16 225.85,353.37 225.37,354.26 C224.88,355.15 224.04,355.85 222.90,356.22 C221.76,356.59 220.00,356.50 218.55,356.50 C217.10,356.50 215.34,356.59 214.20,356.22 C213.06,355.85 212.22,355.15 211.74,354.26 C211.25,353.37 211.37,352.16 211.30,350.90 C211.23,349.64 211.25,348.10 211.30,346.70 C211.35,345.30 211.42,343.76 211.59,342.50 C211.76,341.24 212.03,340.12 212.31,339.14 C212.60,338.16 213.26,337.32 213.33,336.62 C213.40,335.92 212.60,335.50 212.75,334.94 C212.90,334.38 213.86,333.87 214.20,333.26 C214.54,332.65 214.56,331.95 214.78,331.30 C215.00,330.65 215.17,329.81 215.51,329.34 C215.84,328.87 216.30,328.64 216.81,328.50 C217.32,328.36 217.97,328.50 218.55,328.50 Z" fill="url(#gm2)" filter="url(#fur)"/>
<path d="M218.55,328.50 C219.13,328.50 219.78,328.36 220.29,328.50 C220.80,328.64 221.26,328.87 221.59,329.34 C221.93,329.81 222.10,330.65 222.32,331.30 C222.54,331.95 222.56,332.65 222.90,333.26 C223.24,333.87 224.21,334.38 224.35,334.94 C224.50,335.50 223.70,335.92 223.77,336.62 C223.84,337.32 224.50,338.16 224.79,339.14 C225.08,340.12 225.34,341.24 225.51,342.50 C225.68,343.76 225.75,345.30 225.80,346.70 C225.85,348.10 225.87,349.64 225.80,350.90 C225.73,352.16 225.85,353.37 225.37,354.26 C224.88,355.15 224.04,355.85 222.90,356.22 C221.76,356.59 220.00,356.50 218.55,356.50 C217.10,356.50 215.34,356.59 214.20,356.22 C213.06,355.85 212.22,355.15 211.74,354.26 C211.25,353.37 211.37,352.16 211.30,350.90 C211.23,349.64 211.25,348.10 211.30,346.70 C211.35,345.30 211.42,343.76 211.59,342.50 C211.76,341.24 212.03,340.12 212.31,339.14 C212.60,338.16 213.26,337.32 213.33,336.62 C213.40,335.92 212.60,335.50 212.75,334.94 C212.90,334.38 213.86,333.87 214.20,333.26 C214.54,332.65 214.56,331.95 214.78,331.30 C215.00,330.65 215.17,329.81 215.51,329.34 C215.84,328.87 216.30,328.64 216.81,328.50 C217.32,328.36 217.97,328.50 218.55,328.50 Z" fill="url(#ge)" filter="url(#bl)"/>
<path d="M213.91,355.00 L213.33,358.10 M223.19,355.00 L223.77,358.10 M218.55,355.50 L218.75,359.30" stroke="#888" stroke-width="0.9" filter="url(#bl)"/>
<path d="M233.95,328.50 C234.53,328.50 235.18,328.36 235.69,328.50 C236.20,328.64 236.66,328.87 236.99,329.34 C237.33,329.81 237.50,330.65 237.72,331.30 C237.94,331.95 237.96,332.65 238.30,333.26 C238.64,333.87 239.60,334.38 239.75,334.94 C239.90,335.50 239.10,335.92 239.17,336.62 C239.24,337.32 239.90,338.16 240.19,339.14 C240.47,340.12 240.74,341.24 240.91,342.50 C241.08,343.76 241.15,345.30 241.20,346.70 C241.25,348.10 241.27,349.64 241.20,350.90 C241.13,352.16 241.25,353.37 240.76,354.26 C240.28,355.15 239.44,355.85 238.30,356.22 C237.16,356.59 235.40,356.50 233.95,356.50 C232.50,356.50 230.74,356.59 229.60,356.22 C228.46,355.85 227.62,355.15 227.13,354.26 C226.65,353.37 226.77,352.16 226.70,350.90 C226.63,349.64 226.65,348.10 226.70,346.70 C226.75,345.30 226.82,343.76 226.99,342.50 C227.16,341.24 227.42,340.12 227.71,339.14 C228.00,338.16 228.66,337.32 228.73,336.62 C228.80,335.92 228.00,335.50 228.15,334.94 C228.29,334.38 229.26,333.87 229.60,333.26 C229.94,332.65 229.96,331.95 230.18,331.30 C230.40,330.65 230.57,329.81 230.91,329.34 C231.24,328.87 231.70,328.64 232.21,328.50 C232.72,328.36 233.37,328.50 233.95,328.50 Z" fill="url(#gm2)" filter="url(#fur)"/>
<path d="M233.95,328.50 C234.53,328.50 235.18,328.36 235.69,328.50 C236.20,328.64 236.66,328.87 236.99,329.34 C237.33,329.81 237.50,330.65 237.72,331.30 C237.94,331.95 237.96,332.65 238.30,333.26 C238.64,333.87 239.60,334.38 239.75,334.94 C239.90,335.50 239.10,335.92 239.17,336.62 C239.24,337.32 239.90,338.16 240.19,339.14 C240.47,340.12 240.74,341.24 240.91,342.50 C241.08,343.76 241.15,345.30 241.20,346.70 C241.25,348.10 241.27,349.64 241.20,350.90 C241.13,352.16 241.25,353.37 240.76,354.26 C240.28,355.15 239.44,355.85 238.30,356.22 C237.16,356.59 235.40,356.50 233.95,356.50 C232.50,356.50 230.74,356.59 229.60,356.22 C228.46,355.85 227.62,355.15 227.13,354.26 C226.65,353.37 226.77,352.16 226.70,350.90 C226.63,349.64 226.65,348.10 226.70,346.70 C226.75,345.30 226.82,343.76 226.99,342.50 C227.16,341.24 227.42,340.12 227.71,339.14 C228.00,338.16 228.66,337.32 228.73,336.62 C228.80,335.92 228.00,335.50 228.15,334.94 C228.29,334.38 229.26,333.87 229.60,333.26 C229.94,332.65 229.96,331.95 230.18,331.30 C230.40,330.65 230.57,329.81 230.91,329.34 C231.24,328.87 231.70,328.64 232.21,328.50 C232.72,328.36 233.37,328.50 233.95,328.50 Z" fill="url(#ge)" filter="url(#bl)"/>
<path d="M229.31,355.00 L228.73,358.10 M238.59,355.00 L239.17,358.10 M233.95,355.50 L234.15,359.30" stroke="#888" stroke-width="0.9" filter="url(#bl)"/>
<path d="M250.75,328.50 C251.37,328.50 252.07,328.36 252.61,328.50 C253.15,328.64 253.64,328.87 254.00,329.34 C254.37,329.81 254.55,330.65 254.78,331.30 C255.01,331.95 255.04,332.65 255.40,333.26 C255.76,333.87 256.80,334.38 256.95,334.94 C257.10,335.50 256.25,335.92 256.33,336.62 C256.41,337.32 257.11,338.16 257.42,339.14 C257.73,340.12 258.01,341.24 258.19,342.50 C258.37,343.76 258.45,345.30 258.50,346.70 C258.55,348.10 258.58,349.64 258.50,350.90 C258.42,352.16 258.55,353.37 258.04,354.26 C257.52,355.15 256.61,355.85 255.40,356.22 C254.19,356.59 252.30,356.50 250.75,356.50 C249.20,356.50 247.31,356.59 246.10,356.22 C244.89,355.85 243.98,355.15 243.47,354.26 C242.95,353.37 243.08,352.16 243.00,350.90 C242.92,349.64 242.95,348.10 243.00,346.70 C243.05,345.30 243.13,343.76 243.31,342.50 C243.49,341.24 243.78,340.12 244.09,339.14 C244.40,338.16 245.09,337.32 245.17,336.62 C245.25,335.92 244.40,335.50 244.55,334.94 C244.71,334.38 245.74,333.87 246.10,333.26 C246.46,332.65 246.49,331.95 246.72,331.30 C246.95,330.65 247.13,329.81 247.50,329.34 C247.86,328.87 248.35,328.64 248.89,328.50 C249.43,328.36 250.13,328.50 250.75,328.50 Z" fill="url(#gm1)" filter="url(#fur)"/>
<path d="M250.75,328.50 C251.37,328.50 252.07,328.36 252.61,328.50 C253.15,328.64 253.64,328.87 254.00,329.34 C254.37,329.81 254.55,330.65 254.78,331.30 C255.01,331.95 255.04,332.65 255.40,333.26 C255.76,333.87 256.80,334.38 256.95,334.94 C257.10,335.50 256.25,335.92 256.33,336.62 C256.41,337.32 257.11,338.16 257.42,339.14 C257.73,340.12 258.01,341.24 258.19,342.50 C258.37,343.76 258.45,345.30 258.50,346.70 C258.55,348.10 258.58,349.64 258.50,350.90 C258.42,352.16 258.55,353.37 258.04,354.26 C257.52,355.15 256.61,355.85 255.40,356.22 C254.19,356.59 252.30,356.50 250.75,356.50 C249.20,356.50 247.31,356.59 246.10,356.22 C244.89,355.85 243.98,355.15 243.47,354.26 C242.95,353.37 243.08,352.16 243.00,350.90 C242.92,349.64 242.95,348.10 243.00,346.70 C243.05,345.30 243.13,343.76 243.31,342.50 C243.49,341.24 243.78,340.12 244.09,339.14 C244.40,338.16 245.09,337.32 245.17,336.62 C245.25,335.92 244.40,335.50 244.55,334.94 C244.71,334.38 245.74,333.87 246.10,333.26 C246.46,332.65 246.49,331.95 246.72,331.30 C246.95,330.65 247.13,329.81 247.50,329.34 C247.86,328.87 248.35,328.64 248.89,328.50 C249.43,328.36 250.13,328.50 250.75,328.50 Z" fill="url(#ge)" filter="url(#bl)"/>
<path d="M245.79,355.00 L245.17,358.10 M255.71,355.00 L256.33,358.10 M250.75,355.50 L250.95,359.30" stroke="#888" stroke-width="0.9" filter="url(#bl)"/>
<rect x="51.3" y="362.4" width="38.90" height="35.40" fill="#060606"/>
<path d="M61.2,364.0 C63.8,364.0 65.2,367 65.6,370 C68.2,374 68.6,386 67.6,391 C66.5,394 63.5,395.2 61.3,395.2 C59,395.2 56,394 55,391 C54,386 54.2,374 56.8,370 C57.2,367 58.6,364.0 61.2,364.0 Z" fill="#58c068" filter="url(#bl)"/>
<ellipse cx="61.20" cy="368.20" rx="2.6" ry="3.0" fill="#c0d040" opacity="0.95" filter="url(#bl)"/>
<ellipse cx="61.40" cy="382.20" rx="6.9" ry="11.4" fill="#f0a830" opacity="1" filter="url(#bl)"/>
<ellipse cx="61.40" cy="382.60" rx="6.4" ry="10.9" fill="#ea1c1a" opacity="1" filter="url(#bl)"/>
<ellipse cx="59.50" cy="371.00" rx="1.4" ry="1.4" fill="#f0b020" opacity="0.9" filter="url(#bl)"/>
<ellipse cx="63.20" cy="371.00" rx="1.4" ry="1.4" fill="#f0b020" opacity="0.9" filter="url(#bl)"/>
<path d="M56,391 L53.8,395.5 M66.5,391 L69.2,395.5" stroke="#40b090" stroke-width="1.0" filter="url(#bl)"/>
<path d="M80.45,365.10 C81.04,365.10 81.70,364.95 82.21,365.10 C82.73,365.25 83.19,365.50 83.54,366.00 C83.88,366.50 84.05,367.39 84.27,368.09 C84.49,368.79 84.52,369.54 84.86,370.18 C85.20,370.83 86.18,371.38 86.33,371.98 C86.48,372.58 85.67,373.02 85.74,373.77 C85.82,374.52 86.48,375.42 86.77,376.46 C87.06,377.51 87.33,378.70 87.51,380.05 C87.68,381.40 87.75,383.04 87.80,384.54 C87.85,386.03 87.87,387.67 87.80,389.02 C87.73,390.37 87.85,391.66 87.36,392.61 C86.87,393.55 86.01,394.30 84.86,394.70 C83.71,395.10 81.92,395.00 80.45,395.00 C78.98,395.00 77.19,395.10 76.04,394.70 C74.89,394.30 74.03,393.55 73.54,392.61 C73.05,391.66 73.17,390.37 73.10,389.02 C73.03,387.67 73.05,386.03 73.10,384.54 C73.15,383.04 73.22,381.40 73.39,380.05 C73.57,378.70 73.83,377.51 74.13,376.46 C74.42,375.42 75.08,374.52 75.16,373.77 C75.23,373.02 74.42,372.58 74.57,371.98 C74.72,371.38 75.70,370.83 76.04,370.18 C76.38,369.54 76.41,368.79 76.63,368.09 C76.85,367.39 77.02,366.50 77.36,366.00 C77.71,365.50 78.17,365.25 78.69,365.10 C79.20,364.95 79.86,365.10 80.45,365.10 Z" fill="url(#gm1)" filter="url(#fur)"/>
<path d="M80.45,365.10 C81.04,365.10 81.70,364.95 82.21,365.10 C82.73,365.25 83.19,365.50 83.54,366.00 C83.88,366.50 84.05,367.39 84.27,368.09 C84.49,368.79 84.52,369.54 84.86,370.18 C85.20,370.83 86.18,371.38 86.33,371.98 C86.48,372.58 85.67,373.02 85.74,373.77 C85.82,374.52 86.48,375.42 86.77,376.46 C87.06,377.51 87.33,378.70 87.51,380.05 C87.68,381.40 87.75,383.04 87.80,384.54 C87.85,386.03 87.87,387.67 87.80,389.02 C87.73,390.37 87.85,391.66 87.36,392.61 C86.87,393.55 86.01,394.30 84.86,394.70 C83.71,395.10 81.92,395.00 80.45,395.00 C78.98,395.00 77.19,395.10 76.04,394.70 C74.89,394.30 74.03,393.55 73.54,392.61 C73.05,391.66 73.17,390.37 73.10,389.02 C73.03,387.67 73.05,386.03 73.10,384.54 C73.15,383.04 73.22,381.40 73.39,380.05 C73.57,378.70 73.83,377.51 74.13,376.46 C74.42,375.42 75.08,374.52 75.16,373.77 C75.23,373.02 74.42,372.58 74.57,371.98 C74.72,371.38 75.70,370.83 76.04,370.18 C76.38,369.54 76.41,368.79 76.63,368.09 C76.85,367.39 77.02,366.50 77.36,366.00 C77.71,365.50 78.17,365.25 78.69,365.10 C79.20,364.95 79.86,365.10 80.45,365.10 Z" fill="url(#ge)" filter="url(#bl)"/>
<path d="M75.75,393.50 L75.16,396.60 M85.15,393.50 L85.74,396.60 M80.45,394.00 L80.65,397.80" stroke="#888" stroke-width="0.9" filter="url(#bl)"/>
<ellipse cx="80.60" cy="378.20" rx="6.4" ry="3.8" fill="#3848c8" opacity="1" filter="url(#bl)"/>
<ellipse cx="80.60" cy="378.20" rx="5.4" ry="2.9" fill="#a0d8e0" opacity="1" filter="url(#bl)"/>
<ellipse cx="80.60" cy="378.30" rx="3.6" ry="1.9" fill="#70e030" opacity="1" filter="url(#bl)"/>
<ellipse cx="80.50" cy="387.00" rx="2.5" ry="1.6" fill="#3848b0" opacity="0.7" filter="url(#bl)"/>
<rect x="74.2" y="393.2" width="3.60" height="2.10" fill="#e0e0e0"/>
<rect x="93.6" y="362.6" width="62.30" height="35.00" fill="#060606"/>
<path d="M101.45,365.50 C101.93,365.50 102.48,365.37 102.90,365.50 C103.33,365.63 103.71,365.85 103.99,366.28 C104.27,366.71 104.41,367.49 104.60,368.10 C104.78,368.71 104.80,369.36 105.08,369.92 C105.36,370.48 106.17,370.96 106.29,371.48 C106.41,372.00 105.75,372.39 105.81,373.04 C105.87,373.69 106.41,374.47 106.65,375.38 C106.90,376.29 107.12,377.33 107.26,378.50 C107.40,379.67 107.46,381.10 107.50,382.40 C107.54,383.70 107.56,385.13 107.50,386.30 C107.44,387.47 107.54,388.60 107.14,389.42 C106.73,390.24 106.03,390.89 105.08,391.24 C104.13,391.59 102.66,391.50 101.45,391.50 C100.24,391.50 98.77,391.59 97.82,391.24 C96.87,390.89 96.17,390.24 95.76,389.42 C95.36,388.60 95.46,387.47 95.40,386.30 C95.34,385.13 95.36,383.70 95.40,382.40 C95.44,381.10 95.50,379.67 95.64,378.50 C95.78,377.33 96.00,376.29 96.25,375.38 C96.49,374.47 97.03,373.69 97.09,373.04 C97.15,372.39 96.49,372.00 96.61,371.48 C96.73,370.96 97.54,370.48 97.82,369.92 C98.10,369.36 98.12,368.71 98.30,368.10 C98.49,367.49 98.63,366.71 98.91,366.28 C99.19,365.85 99.57,365.63 100.00,365.50 C100.42,365.37 100.97,365.50 101.45,365.50 Z" fill="url(#gm1)" filter="url(#fur)"/>
<path d="M101.45,365.50 C101.93,365.50 102.48,365.37 102.90,365.50 C103.33,365.63 103.71,365.85 103.99,366.28 C104.27,366.71 104.41,367.49 104.60,368.10 C104.78,368.71 104.80,369.36 105.08,369.92 C105.36,370.48 106.17,370.96 106.29,371.48 C106.41,372.00 105.75,372.39 105.81,373.04 C105.87,373.69 106.41,374.47 106.65,375.38 C106.90,376.29 107.12,377.33 107.26,378.50 C107.40,379.67 107.46,381.10 107.50,382.40 C107.54,383.70 107.56,385.13 107.50,386.30 C107.44,387.47 107.54,388.60 107.14,389.42 C106.73,390.24 106.03,390.89 105.08,391.24 C104.13,391.59 102.66,391.50 101.45,391.50 C100.24,391.50 98.77,391.59 97.82,391.24 C96.87,390.89 96.17,390.24 95.76,389.42 C95.36,388.60 95.46,387.47 95.40,386.30 C95.34,385.13 95.36,383.70 95.40,382.40 C95.44,381.10 95.50,379.67 95.64,378.50 C95.78,377.33 96.00,376.29 96.25,375.38 C96.49,374.47 97.03,373.69 97.09,373.04 C97.15,372.39 96.49,372.00 96.61,371.48 C96.73,370.96 97.54,370.48 97.82,369.92 C98.10,369.36 98.12,368.71 98.30,368.10 C98.49,367.49 98.63,366.71 98.91,366.28 C99.19,365.85 99.57,365.63 100.00,365.50 C100.42,365.37 100.97,365.50 101.45,365.50 Z" fill="url(#ge)" filter="url(#bl)"/>
<path d="M97.58,390.00 L97.09,393.10 M105.32,390.00 L105.81,393.10 M101.45,390.50 L101.65,394.30" stroke="#888" stroke-width="0.9" filter="url(#bl)"/>
<ellipse cx="101.20" cy="375.00" rx="5.9" ry="8.6" fill="#3040c0" opacity="1" filter="url(#bl)"/>
<ellipse cx="101.30" cy="372.80" rx="4.8" ry="5.4" fill="#40a8d8" opacity="1" filter="url(#bl)"/>
<ellipse cx="101.00" cy="374.00" rx="3.6" ry="3.6" fill="#70c840" opacity="1" filter="url(#bl)"/>
<ellipse cx="102.20" cy="372.20" rx="2.6" ry="2.6" fill="#e8e030" opacity="0.9" filter="url(#bl)"/>
<ellipse cx="103.00" cy="371.80" rx="2.1" ry="2.1" fill="#e82818" opacity="1" filter="url(#bl)"/>
<ellipse cx="101.20" cy="381.20" rx="4.0" ry="2.4" fill="#4030b8" opacity="0.95" filter="url(#bl)"/>
<ellipse cx="100.50" cy="382.00" rx="1.8" ry="1.4" fill="#a040c8" opacity="0.85" filter="url(#bl)"/>
<rect x="95.5" y="393.5" width="4.00" height="2.50" fill="#e0e0e0"/>
<path d="M116.70,366.50 C117.20,366.50 117.77,366.38 118.21,366.50 C118.65,366.62 119.05,366.82 119.35,367.22 C119.64,367.62 119.79,368.34 119.98,368.90 C120.16,369.46 120.19,370.06 120.48,370.58 C120.77,371.10 121.61,371.54 121.74,372.02 C121.87,372.50 121.17,372.86 121.24,373.46 C121.30,374.06 121.87,374.78 122.12,375.62 C122.37,376.46 122.60,377.42 122.75,378.50 C122.90,379.58 122.96,380.90 123.00,382.10 C123.04,383.30 123.06,384.62 123.00,385.70 C122.94,386.78 123.04,387.82 122.62,388.58 C122.20,389.34 121.47,389.94 120.48,390.26 C119.49,390.58 117.96,390.50 116.70,390.50 C115.44,390.50 113.91,390.58 112.92,390.26 C111.93,389.94 111.20,389.34 110.78,388.58 C110.36,387.82 110.46,386.78 110.40,385.70 C110.34,384.62 110.36,383.30 110.40,382.10 C110.44,380.90 110.50,379.58 110.65,378.50 C110.80,377.42 111.03,376.46 111.28,375.62 C111.53,374.78 112.10,374.06 112.16,373.46 C112.23,372.86 111.53,372.50 111.66,372.02 C111.79,371.54 112.63,371.10 112.92,370.58 C113.21,370.06 113.24,369.46 113.42,368.90 C113.61,368.34 113.76,367.62 114.05,367.22 C114.35,366.82 114.75,366.62 115.19,366.50 C115.63,366.38 116.20,366.50 116.70,366.50 Z" fill="url(#gm1)" filter="url(#fur)"/>
<path d="M116.70,366.50 C117.20,366.50 117.77,366.38 118.21,366.50 C118.65,366.62 119.05,366.82 119.35,367.22 C119.64,367.62 119.79,368.34 119.98,368.90 C120.16,369.46 120.19,370.06 120.48,370.58 C120.77,371.10 121.61,371.54 121.74,372.02 C121.87,372.50 121.17,372.86 121.24,373.46 C121.30,374.06 121.87,374.78 122.12,375.62 C122.37,376.46 122.60,377.42 122.75,378.50 C122.90,379.58 122.96,380.90 123.00,382.10 C123.04,383.30 123.06,384.62 123.00,385.70 C122.94,386.78 123.04,387.82 122.62,388.58 C122.20,389.34 121.47,389.94 120.48,390.26 C119.49,390.58 117.96,390.50 116.70,390.50 C115.44,390.50 113.91,390.58 112.92,390.26 C111.93,389.94 111.20,389.34 110.78,388.58 C110.36,387.82 110.46,386.78 110.40,385.70 C110.34,384.62 110.36,383.30 110.40,382.10 C110.44,380.90 110.50,379.58 110.65,378.50 C110.80,377.42 111.03,376.46 111.28,375.62 C111.53,374.78 112.10,374.06 112.16,373.46 C112.23,372.86 111.53,372.50 111.66,372.02 C111.79,371.54 112.63,371.10 112.92,370.58 C113.21,370.06 113.24,369.46 113.42,368.90 C113.61,368.34 113.76,367.62 114.05,367.22 C114.35,366.82 114.75,366.62 115.19,366.50 C115.63,366.38 116.20,366.50 116.70,366.50 Z" fill="url(#ge)" filter="url(#bl)"/>
<path d="M112.67,389.00 L112.16,392.10 M120.73,389.00 L121.24,392.10 M116.70,389.50 L116.90,393.30" stroke="#888" stroke-width="0.9" filter="url(#bl)"/>
<ellipse cx="115.50" cy="377.50" rx="4.5" ry="3.5" fill="#3a6ad0" opacity="0.95" filter="url(#bl)"/>
<ellipse cx="116.50" cy="377.00" rx="2.5" ry="2.0" fill="#5a90e0" opacity="0.8" filter="url(#bl)"/>
<path d="M131.80,366.50 C132.26,366.50 132.79,366.38 133.19,366.50 C133.60,366.62 133.97,366.83 134.24,367.24 C134.51,367.64 134.64,368.38 134.82,368.95 C134.99,369.52 135.01,370.13 135.28,370.67 C135.55,371.20 136.32,371.64 136.44,372.13 C136.56,372.62 135.92,372.99 135.98,373.61 C136.03,374.22 136.56,374.95 136.79,375.81 C137.02,376.67 137.23,377.65 137.37,378.75 C137.50,379.85 137.56,381.20 137.60,382.43 C137.64,383.65 137.66,385.00 137.60,386.10 C137.54,387.20 137.64,388.26 137.25,389.04 C136.87,389.82 136.19,390.43 135.28,390.75 C134.37,391.08 132.96,391.00 131.80,391.00 C130.64,391.00 129.23,391.08 128.32,390.75 C127.41,390.43 126.73,389.82 126.35,389.04 C125.96,388.26 126.06,387.20 126.00,386.10 C125.94,385.00 125.96,383.65 126.00,382.43 C126.04,381.20 126.10,379.85 126.23,378.75 C126.37,377.65 126.58,376.67 126.81,375.81 C127.04,374.95 127.57,374.22 127.62,373.61 C127.68,372.99 127.04,372.62 127.16,372.13 C127.28,371.64 128.05,371.20 128.32,370.67 C128.59,370.13 128.61,369.52 128.78,368.95 C128.96,368.38 129.09,367.64 129.36,367.24 C129.63,366.83 130.00,366.62 130.41,366.50 C130.81,366.38 131.34,366.50 131.80,366.50 Z" fill="url(#gm2)" filter="url(#fur)"/>
<path d="M131.80,366.50 C132.26,366.50 132.79,366.38 133.19,366.50 C133.60,366.62 133.97,366.83 134.24,367.24 C134.51,367.64 134.64,368.38 134.82,368.95 C134.99,369.52 135.01,370.13 135.28,370.67 C135.55,371.20 136.32,371.64 136.44,372.13 C136.56,372.62 135.92,372.99 135.98,373.61 C136.03,374.22 136.56,374.95 136.79,375.81 C137.02,376.67 137.23,377.65 137.37,378.75 C137.50,379.85 137.56,381.20 137.60,382.43 C137.64,383.65 137.66,385.00 137.60,386.10 C137.54,387.20 137.64,388.26 137.25,389.04 C136.87,389.82 136.19,390.43 135.28,390.75 C134.37,391.08 132.96,391.00 131.80,391.00 C130.64,391.00 129.23,391.08 128.32,390.75 C127.41,390.43 126.73,389.82 126.35,389.04 C125.96,388.26 126.06,387.20 126.00,386.10 C125.94,385.00 125.96,383.65 126.00,382.43 C126.04,381.20 126.10,379.85 126.23,378.75 C126.37,377.65 126.58,376.67 126.81,375.81 C127.04,374.95 127.57,374.22 127.62,373.61 C127.68,372.99 127.04,372.62 127.16,372.13 C127.28,371.64 128.05,371.20 128.32,370.67 C128.59,370.13 128.61,369.52 128.78,368.95 C128.96,368.38 129.09,367.64 129.36,367.24 C129.63,366.83 130.00,366.62 130.41,366.50 C130.81,366.38 131.34,366.50 131.80,366.50 Z" fill="url(#ge)" filter="url(#bl)"/>
<path d="M128.09,389.50 L127.62,392.60 M135.51,389.50 L135.98,392.60 M131.80,390.00 L132.00,393.80" stroke="#888" stroke-width="0.9" filter="url(#bl)"/>
<path d="M146.50,366.50 C146.99,366.50 147.54,366.38 147.96,366.50 C148.39,366.62 148.78,366.83 149.06,367.24 C149.35,367.64 149.49,368.38 149.67,368.95 C149.85,369.52 149.88,370.13 150.16,370.67 C150.44,371.20 151.26,371.64 151.38,372.13 C151.50,372.62 150.83,372.99 150.89,373.61 C150.95,374.22 151.50,374.95 151.75,375.81 C151.99,376.67 152.21,377.65 152.36,378.75 C152.50,379.85 152.56,381.20 152.60,382.43 C152.64,383.65 152.66,385.00 152.60,386.10 C152.54,387.20 152.64,388.26 152.23,389.04 C151.83,389.82 151.12,390.43 150.16,390.75 C149.20,391.08 147.72,391.00 146.50,391.00 C145.28,391.00 143.80,391.08 142.84,390.75 C141.88,390.43 141.17,389.82 140.77,389.04 C140.36,388.26 140.46,387.20 140.40,386.10 C140.34,385.00 140.36,383.65 140.40,382.43 C140.44,381.20 140.50,379.85 140.64,378.75 C140.79,377.65 141.01,376.67 141.25,375.81 C141.50,374.95 142.05,374.22 142.11,373.61 C142.17,372.99 141.50,372.62 141.62,372.13 C141.74,371.64 142.56,371.20 142.84,370.67 C143.12,370.13 143.15,369.52 143.33,368.95 C143.51,368.38 143.65,367.64 143.94,367.24 C144.22,366.83 144.61,366.62 145.04,366.50 C145.46,366.38 146.01,366.50 146.50,366.50 Z" fill="url(#gm2)" filter="url(#fur)"/>
<path d="M146.50,366.50 C146.99,366.50 147.54,366.38 147.96,366.50 C148.39,366.62 148.78,366.83 149.06,367.24 C149.35,367.64 149.49,368.38 149.67,368.95 C149.85,369.52 149.88,370.13 150.16,370.67 C150.44,371.20 151.26,371.64 151.38,372.13 C151.50,372.62 150.83,372.99 150.89,373.61 C150.95,374.22 151.50,374.95 151.75,375.81 C151.99,376.67 152.21,377.65 152.36,378.75 C152.50,379.85 152.56,381.20 152.60,382.43 C152.64,383.65 152.66,385.00 152.60,386.10 C152.54,387.20 152.64,388.26 152.23,389.04 C151.83,389.82 151.12,390.43 150.16,390.75 C149.20,391.08 147.72,391.00 146.50,391.00 C145.28,391.00 143.80,391.08 142.84,390.75 C141.88,390.43 141.17,389.82 140.77,389.04 C140.36,388.26 140.46,387.20 140.40,386.10 C140.34,385.00 140.36,383.65 140.40,382.43 C140.44,381.20 140.50,379.85 140.64,378.75 C140.79,377.65 141.01,376.67 141.25,375.81 C141.50,374.95 142.05,374.22 142.11,373.61 C142.17,372.99 141.50,372.62 141.62,372.13 C141.74,371.64 142.56,371.20 142.84,370.67 C143.12,370.13 143.15,369.52 143.33,368.95 C143.51,368.38 143.65,367.64 143.94,367.24 C144.22,366.83 144.61,366.62 145.04,366.50 C145.46,366.38 146.01,366.50 146.50,366.50 Z" fill="url(#ge)" filter="url(#bl)"/>
<path d="M142.60,389.50 L142.11,392.60 M150.40,389.50 L150.89,392.60 M146.50,390.00 L146.70,393.80" stroke="#888" stroke-width="0.9" filter="url(#bl)"/>
<rect x="177.6" y="362.2" width="85.10" height="35.20" fill="#060606"/>
<path d="M184.95,363.20 C185.48,363.20 186.08,363.05 186.55,363.20 C187.01,363.35 187.43,363.59 187.74,364.08 C188.05,364.57 188.21,365.45 188.41,366.13 C188.61,366.81 188.63,367.55 188.94,368.18 C189.25,368.82 190.14,369.35 190.27,369.94 C190.40,370.52 189.67,370.96 189.74,371.70 C189.80,372.43 190.40,373.31 190.67,374.33 C190.93,375.36 191.18,376.53 191.33,377.85 C191.49,379.17 191.56,380.78 191.60,382.25 C191.64,383.71 191.67,385.32 191.60,386.64 C191.53,387.96 191.64,389.23 191.20,390.16 C190.76,391.08 189.98,391.82 188.94,392.21 C187.90,392.60 186.28,392.50 184.95,392.50 C183.62,392.50 182.00,392.60 180.96,392.21 C179.92,391.82 179.14,391.08 178.70,390.16 C178.26,389.23 178.37,387.96 178.30,386.64 C178.23,385.32 178.26,383.71 178.30,382.25 C178.34,380.78 178.41,379.17 178.57,377.85 C178.72,376.53 178.97,375.36 179.23,374.33 C179.50,373.31 180.10,372.43 180.16,371.70 C180.23,370.96 179.50,370.52 179.63,369.94 C179.76,369.35 180.65,368.82 180.96,368.18 C181.27,367.55 181.29,366.81 181.49,366.13 C181.69,365.45 181.85,364.57 182.16,364.08 C182.47,363.59 182.89,363.35 183.35,363.20 C183.82,363.05 184.42,363.20 184.95,363.20 Z" fill="url(#gm1)" filter="url(#fur)"/>
<path d="M184.95,363.20 C185.48,363.20 186.08,363.05 186.55,363.20 C187.01,363.35 187.43,363.59 187.74,364.08 C188.05,364.57 188.21,365.45 188.41,366.13 C188.61,366.81 188.63,367.55 188.94,368.18 C189.25,368.82 190.14,369.35 190.27,369.94 C190.40,370.52 189.67,370.96 189.74,371.70 C189.80,372.43 190.40,373.31 190.67,374.33 C190.93,375.36 191.18,376.53 191.33,377.85 C191.49,379.17 191.56,380.78 191.60,382.25 C191.64,383.71 191.67,385.32 191.60,386.64 C191.53,387.96 191.64,389.23 191.20,390.16 C190.76,391.08 189.98,391.82 188.94,392.21 C187.90,392.60 186.28,392.50 184.95,392.50 C183.62,392.50 182.00,392.60 180.96,392.21 C179.92,391.82 179.14,391.08 178.70,390.16 C178.26,389.23 178.37,387.96 178.30,386.64 C178.23,385.32 178.26,383.71 178.30,382.25 C178.34,380.78 178.41,379.17 178.57,377.85 C178.72,376.53 178.97,375.36 179.23,374.33 C179.50,373.31 180.10,372.43 180.16,371.70 C180.23,370.96 179.50,370.52 179.63,369.94 C179.76,369.35 180.65,368.82 180.96,368.18 C181.27,367.55 181.29,366.81 181.49,366.13 C181.69,365.45 181.85,364.57 182.16,364.08 C182.47,363.59 182.89,363.35 183.35,363.20 C183.82,363.05 184.42,363.20 184.95,363.20 Z" fill="url(#ge)" filter="url(#bl)"/>
<path d="M180.69,391.00 L180.16,394.10 M189.21,391.00 L189.74,394.10 M184.95,391.50 L185.15,395.30" stroke="#888" stroke-width="0.9" filter="url(#bl)"/>
<ellipse cx="184.00" cy="367.50" rx="2.6" ry="2.2" fill="#8890e0" opacity="0.8" filter="url(#bl)"/>
<ellipse cx="187.00" cy="372.50" rx="2.2" ry="2.0" fill="#3848c0" opacity="0.9" filter="url(#bl)"/>
<ellipse cx="182.00" cy="375.50" rx="2.2" ry="2.4" fill="#2838b0" opacity="0.95" filter="url(#bl)"/>
<ellipse cx="186.50" cy="379.50" rx="2.6" ry="1.8" fill="#3040b8" opacity="0.9" filter="url(#bl)"/>
<ellipse cx="181.50" cy="384.00" rx="2.4" ry="2.0" fill="#5048b8" opacity="0.9" filter="url(#bl)"/>
<ellipse cx="186.00" cy="387.00" rx="2.6" ry="1.8" fill="#7040b0" opacity="0.85" filter="url(#bl)"/>
<ellipse cx="183.50" cy="380.50" rx="1.2" ry="1.2" fill="#e0e0f0" opacity="0.8" filter="url(#bl)"/>
<path d="M200.90,364.00 C201.45,364.00 202.07,363.86 202.56,364.00 C203.04,364.14 203.48,364.38 203.80,364.86 C204.12,365.33 204.28,366.19 204.49,366.85 C204.69,367.52 204.72,368.23 205.04,368.85 C205.36,369.46 206.28,369.99 206.42,370.56 C206.56,371.12 205.80,371.55 205.87,372.26 C205.94,372.98 206.56,373.83 206.83,374.83 C207.11,375.83 207.36,376.97 207.52,378.25 C207.69,379.53 207.75,381.10 207.80,382.52 C207.85,383.95 207.87,385.52 207.80,386.80 C207.73,388.08 207.85,389.32 207.39,390.22 C206.93,391.12 206.12,391.83 205.04,392.21 C203.96,392.59 202.28,392.50 200.90,392.50 C199.52,392.50 197.84,392.59 196.76,392.21 C195.68,391.83 194.87,391.12 194.41,390.22 C193.95,389.32 194.07,388.08 194.00,386.80 C193.93,385.52 193.95,383.95 194.00,382.52 C194.05,381.10 194.12,379.53 194.28,378.25 C194.44,376.97 194.69,375.83 194.97,374.83 C195.24,373.83 195.86,372.98 195.93,372.26 C196.00,371.55 195.24,371.12 195.38,370.56 C195.52,369.99 196.44,369.46 196.76,368.85 C197.08,368.23 197.11,367.52 197.31,366.85 C197.52,366.19 197.68,365.33 198.00,364.86 C198.32,364.38 198.76,364.14 199.24,364.00 C199.73,363.86 200.35,364.00 200.90,364.00 Z" fill="url(#gm1)" filter="url(#fur)"/>
<path d="M200.90,364.00 C201.45,364.00 202.07,363.86 202.56,364.00 C203.04,364.14 203.48,364.38 203.80,364.86 C204.12,365.33 204.28,366.19 204.49,366.85 C204.69,367.52 204.72,368.23 205.04,368.85 C205.36,369.46 206.28,369.99 206.42,370.56 C206.56,371.12 205.80,371.55 205.87,372.26 C205.94,372.98 206.56,373.83 206.83,374.83 C207.11,375.83 207.36,376.97 207.52,378.25 C207.69,379.53 207.75,381.10 207.80,382.52 C207.85,383.95 207.87,385.52 207.80,386.80 C207.73,388.08 207.85,389.32 207.39,390.22 C206.93,391.12 206.12,391.83 205.04,392.21 C203.96,392.59 202.28,392.50 200.90,392.50 C199.52,392.50 197.84,392.59 196.76,392.21 C195.68,391.83 194.87,391.12 194.41,390.22 C193.95,389.32 194.07,388.08 194.00,386.80 C193.93,385.52 193.95,383.95 194.00,382.52 C194.05,381.10 194.12,379.53 194.28,378.25 C194.44,376.97 194.69,375.83 194.97,374.83 C195.24,373.83 195.86,372.98 195.93,372.26 C196.00,371.55 195.24,371.12 195.38,370.56 C195.52,369.99 196.44,369.46 196.76,368.85 C197.08,368.23 197.11,367.52 197.31,366.85 C197.52,366.19 197.68,365.33 198.00,364.86 C198.32,364.38 198.76,364.14 199.24,364.00 C199.73,363.86 200.35,364.00 200.90,364.00 Z" fill="url(#ge)" filter="url(#bl)"/>
<path d="M196.48,391.00 L195.93,394.10 M205.32,391.00 L205.87,394.10 M200.90,391.50 L201.10,395.30" stroke="#888" stroke-width="0.9" filter="url(#bl)"/>
<path d="M218.10,364.00 C218.67,364.00 219.31,363.86 219.80,364.00 C220.30,364.14 220.75,364.38 221.08,364.86 C221.41,365.33 221.58,366.19 221.79,366.85 C222.00,367.52 222.03,368.23 222.36,368.85 C222.69,369.46 223.64,369.99 223.78,370.56 C223.92,371.12 223.14,371.55 223.21,372.26 C223.28,372.98 223.92,373.83 224.21,374.83 C224.49,375.83 224.75,376.97 224.92,378.25 C225.08,379.53 225.15,381.10 225.20,382.52 C225.25,383.95 225.27,385.52 225.20,386.80 C225.13,388.08 225.25,389.32 224.77,390.22 C224.30,391.12 223.47,391.83 222.36,392.21 C221.25,392.59 219.52,392.50 218.10,392.50 C216.68,392.50 214.95,392.59 213.84,392.21 C212.73,391.83 211.90,391.12 211.43,390.22 C210.95,389.32 211.07,388.08 211.00,386.80 C210.93,385.52 210.95,383.95 211.00,382.52 C211.05,381.10 211.12,379.53 211.28,378.25 C211.45,376.97 211.71,375.83 211.99,374.83 C212.28,373.83 212.92,372.98 212.99,372.26 C213.06,371.55 212.28,371.12 212.42,370.56 C212.56,369.99 213.51,369.46 213.84,368.85 C214.17,368.23 214.19,367.52 214.41,366.85 C214.62,366.19 214.79,365.33 215.12,364.86 C215.45,364.38 215.90,364.14 216.40,364.00 C216.89,363.86 217.53,364.00 218.10,364.00 Z" fill="url(#gm2)" filter="url(#fur)"/>
<path d="M218.10,364.00 C218.67,364.00 219.31,363.86 219.80,364.00 C220.30,364.14 220.75,364.38 221.08,364.86 C221.41,365.33 221.58,366.19 221.79,366.85 C222.00,367.52 222.03,368.23 222.36,368.85 C222.69,369.46 223.64,369.99 223.78,370.56 C223.92,371.12 223.14,371.55 223.21,372.26 C223.28,372.98 223.92,373.83 224.21,374.83 C224.49,375.83 224.75,376.97 224.92,378.25 C225.08,379.53 225.15,381.10 225.20,382.52 C225.25,383.95 225.27,385.52 225.20,386.80 C225.13,388.08 225.25,389.32 224.77,390.22 C224.30,391.12 223.47,391.83 222.36,392.21 C221.25,392.59 219.52,392.50 218.10,392.50 C216.68,392.50 214.95,392.59 213.84,392.21 C212.73,391.83 211.90,391.12 211.43,390.22 C210.95,389.32 211.07,388.08 211.00,386.80 C210.93,385.52 210.95,383.95 211.00,382.52 C211.05,381.10 211.12,379.53 211.28,378.25 C211.45,376.97 211.71,375.83 211.99,374.83 C212.28,373.83 212.92,372.98 212.99,372.26 C213.06,371.55 212.28,371.12 212.42,370.56 C212.56,369.99 213.51,369.46 213.84,368.85 C214.17,368.23 214.19,367.52 214.41,366.85 C214.62,366.19 214.79,365.33 215.12,364.86 C215.45,364.38 215.90,364.14 216.40,364.00 C216.89,363.86 217.53,364.00 218.10,364.00 Z" fill="url(#ge)" filter="url(#bl)"/>
<path d="M213.56,391.00 L212.99,394.10 M222.64,391.00 L223.21,394.10 M218.10,391.50 L218.30,395.30" stroke="#888" stroke-width="0.9" filter="url(#bl)"/>
<path d="M234.10,364.00 C234.67,364.00 235.31,363.86 235.80,364.00 C236.30,364.14 236.75,364.38 237.08,364.86 C237.41,365.33 237.58,366.19 237.79,366.85 C238.00,367.52 238.03,368.23 238.36,368.85 C238.69,369.46 239.64,369.99 239.78,370.56 C239.92,371.12 239.14,371.55 239.21,372.26 C239.28,372.98 239.92,373.83 240.21,374.83 C240.49,375.83 240.75,376.97 240.92,378.25 C241.08,379.53 241.15,381.10 241.20,382.52 C241.25,383.95 241.27,385.52 241.20,386.80 C241.13,388.08 241.25,389.32 240.77,390.22 C240.30,391.12 239.47,391.83 238.36,392.21 C237.25,392.59 235.52,392.50 234.10,392.50 C232.68,392.50 230.95,392.59 229.84,392.21 C228.73,391.83 227.90,391.12 227.43,390.22 C226.95,389.32 227.07,388.08 227.00,386.80 C226.93,385.52 226.95,383.95 227.00,382.52 C227.05,381.10 227.12,379.53 227.28,378.25 C227.45,376.97 227.71,375.83 227.99,374.83 C228.28,373.83 228.92,372.98 228.99,372.26 C229.06,371.55 228.28,371.12 228.42,370.56 C228.56,369.99 229.51,369.46 229.84,368.85 C230.17,368.23 230.19,367.52 230.41,366.85 C230.62,366.19 230.79,365.33 231.12,364.86 C231.45,364.38 231.90,364.14 232.40,364.00 C232.89,363.86 233.53,364.00 234.10,364.00 Z" fill="url(#gm2)" filter="url(#fur)"/>
<path d="M234.10,364.00 C234.67,364.00 235.31,363.86 235.80,364.00 C236.30,364.14 236.75,364.38 237.08,364.86 C237.41,365.33 237.58,366.19 237.79,366.85 C238.00,367.52 238.03,368.23 238.36,368.85 C238.69,369.46 239.64,369.99 239.78,370.56 C239.92,371.12 239.14,371.55 239.21,372.26 C239.28,372.98 239.92,373.83 240.21,374.83 C240.49,375.83 240.75,376.97 240.92,378.25 C241.08,379.53 241.15,381.10 241.20,382.52 C241.25,383.95 241.27,385.52 241.20,386.80 C241.13,388.08 241.25,389.32 240.77,390.22 C240.30,391.12 239.47,391.83 238.36,392.21 C237.25,392.59 235.52,392.50 234.10,392.50 C232.68,392.50 230.95,392.59 229.84,392.21 C228.73,391.83 227.90,391.12 227.43,390.22 C226.95,389.32 227.07,388.08 227.00,386.80 C226.93,385.52 226.95,383.95 227.00,382.52 C227.05,381.10 227.12,379.53 227.28,378.25 C227.45,376.97 227.71,375.83 227.99,374.83 C228.28,373.83 228.92,372.98 228.99,372.26 C229.06,371.55 228.28,371.12 228.42,370.56 C228.56,369.99 229.51,369.46 229.84,368.85 C230.17,368.23 230.19,367.52 230.41,366.85 C230.62,366.19 230.79,365.33 231.12,364.86 C231.45,364.38 231.90,364.14 232.40,364.00 C232.89,363.86 233.53,364.00 234.10,364.00 Z" fill="url(#ge)" filter="url(#bl)"/>
<path d="M229.56,391.00 L228.99,394.10 M238.64,391.00 L239.21,394.10 M234.10,391.50 L234.30,395.30" stroke="#888" stroke-width="0.9" filter="url(#bl)"/>
<path d="M250.95,364.00 C251.56,364.00 252.25,363.86 252.79,364.00 C253.32,364.14 253.81,364.38 254.16,364.86 C254.52,365.33 254.70,366.19 254.93,366.85 C255.16,367.52 255.18,368.23 255.54,368.85 C255.90,369.46 256.92,369.99 257.07,370.56 C257.22,371.12 256.38,371.55 256.46,372.26 C256.53,372.98 257.22,373.83 257.53,374.83 C257.83,375.83 258.12,376.97 258.29,378.25 C258.47,379.53 258.55,381.10 258.60,382.52 C258.65,383.95 258.68,385.52 258.60,386.80 C258.52,388.08 258.65,389.32 258.14,390.22 C257.63,391.12 256.74,391.83 255.54,392.21 C254.34,392.59 252.48,392.50 250.95,392.50 C249.42,392.50 247.56,392.59 246.36,392.21 C245.16,391.83 244.27,391.12 243.76,390.22 C243.25,389.32 243.38,388.08 243.30,386.80 C243.22,385.52 243.25,383.95 243.30,382.52 C243.35,381.10 243.43,379.53 243.61,378.25 C243.78,376.97 244.06,375.83 244.37,374.83 C244.68,373.83 245.37,372.98 245.44,372.26 C245.52,371.55 244.68,371.12 244.83,370.56 C244.98,369.99 246.00,369.46 246.36,368.85 C246.72,368.23 246.74,367.52 246.97,366.85 C247.20,366.19 247.38,365.33 247.74,364.86 C248.09,364.38 248.58,364.14 249.11,364.00 C249.65,363.86 250.34,364.00 250.95,364.00 Z" fill="url(#gm1)" filter="url(#fur)"/>
<path d="M250.95,364.00 C251.56,364.00 252.25,363.86 252.79,364.00 C253.32,364.14 253.81,364.38 254.16,364.86 C254.52,365.33 254.70,366.19 254.93,366.85 C255.16,367.52 255.18,368.23 255.54,368.85 C255.90,369.46 256.92,369.99 257.07,370.56 C257.22,371.12 256.38,371.55 256.46,372.26 C256.53,372.98 257.22,373.83 257.53,374.83 C257.83,375.83 258.12,376.97 258.29,378.25 C258.47,379.53 258.55,381.10 258.60,382.52 C258.65,383.95 258.68,385.52 258.60,386.80 C258.52,388.08 258.65,389.32 258.14,390.22 C257.63,391.12 256.74,391.83 255.54,392.21 C254.34,392.59 252.48,392.50 250.95,392.50 C249.42,392.50 247.56,392.59 246.36,392.21 C245.16,391.83 244.27,391.12 243.76,390.22 C243.25,389.32 243.38,388.08 243.30,386.80 C243.22,385.52 243.25,383.95 243.30,382.52 C243.35,381.10 243.43,379.53 243.61,378.25 C243.78,376.97 244.06,375.83 244.37,374.83 C244.68,373.83 245.37,372.98 245.44,372.26 C245.52,371.55 244.68,371.12 244.83,370.56 C244.98,369.99 246.00,369.46 246.36,368.85 C246.72,368.23 246.74,367.52 246.97,366.85 C247.20,366.19 247.38,365.33 247.74,364.86 C248.09,364.38 248.58,364.14 249.11,364.00 C249.65,363.86 250.34,364.00 250.95,364.00 Z" fill="url(#ge)" filter="url(#bl)"/>
<path d="M246.05,391.00 L245.44,394.10 M255.85,391.00 L256.46,394.10 M250.95,391.50 L251.15,395.30" stroke="#888" stroke-width="0.9" filter="url(#bl)"/>
<rect x="93.5" y="400.3" width="63.60" height="35.40" fill="#060606"/>
<text x="0" y="0" font-size="7.4" fill="#e8e8e8" stroke="#e8e8e8" stroke-width="0.15" textLength="30.5" lengthAdjust="spacingAndGlyphs" transform="translate(100.8,434) rotate(-90)">Leukemia</text>
<text x="0" y="0" font-size="7.4" fill="#e8e8e8" stroke="#e8e8e8" stroke-width="0.15" textLength="17" lengthAdjust="spacingAndGlyphs" transform="translate(108.4,431) rotate(-90)">death</text>
<line x1="109.6" y1="403" x2="109.6" y2="433" stroke="#555" stroke-width="0.6"/>
<path d="M117.6,404.5 C121,404.5 122.5,408 122.8,411 C125,415 125.3,424 124.3,428 C123.3,431 120,431.5 117.6,431.5 C115,431.5 112.2,431 111.2,428 C110.2,424 110.5,415 112.6,411 C112.8,408 114.5,404.5 117.6,404.5 Z" fill="#3a58c8" filter="url(#bl)"/>
<ellipse cx="117.60" cy="408.00" rx="3.0" ry="2.6" fill="#58c0e0" opacity="0.9" filter="url(#bl)"/>
<ellipse cx="117.70" cy="418.50" rx="6.7" ry="9.0" fill="#40c070" opacity="1" filter="url(#bl)"/>
<ellipse cx="117.70" cy="418.60" rx="6.3" ry="8.5" fill="#f0c020" opacity="1" filter="url(#bl)"/>
<ellipse cx="117.70" cy="418.80" rx="5.9" ry="8.0" fill="#ea2a1c" opacity="1" filter="url(#bl)"/>
<text x="0" y="0" font-size="7.4" fill="#e8e8e8" stroke="#e8e8e8" stroke-width="0.15" textLength="19.2" lengthAdjust="spacingAndGlyphs" transform="translate(131,424.5) rotate(-90)">GVHD</text>
<text x="0" y="0" font-size="7.4" fill="#e8e8e8" stroke="#e8e8e8" stroke-width="0.15" textLength="16.8" lengthAdjust="spacingAndGlyphs" transform="translate(138.4,424.2) rotate(-90)">death</text>
<path d="M146.35,404.50 C146.86,404.50 147.43,404.37 147.87,404.50 C148.32,404.63 148.72,404.85 149.02,405.30 C149.31,405.74 149.46,406.53 149.65,407.15 C149.84,407.77 149.86,408.43 150.16,409.00 C150.46,409.58 151.30,410.07 151.43,410.60 C151.56,411.12 150.86,411.52 150.92,412.19 C150.99,412.85 151.56,413.64 151.81,414.57 C152.06,415.50 152.30,416.56 152.45,417.75 C152.59,418.94 152.66,420.40 152.70,421.73 C152.74,423.05 152.76,424.51 152.70,425.70 C152.64,426.89 152.74,428.04 152.32,428.88 C151.90,429.72 151.15,430.38 150.16,430.74 C149.17,431.09 147.62,431.00 146.35,431.00 C145.08,431.00 143.53,431.09 142.54,430.74 C141.55,430.38 140.80,429.72 140.38,428.88 C139.96,428.04 140.06,426.89 140.00,425.70 C139.94,424.51 139.96,423.05 140.00,421.73 C140.04,420.40 140.11,418.94 140.25,417.75 C140.40,416.56 140.64,415.50 140.89,414.57 C141.14,413.64 141.71,412.85 141.78,412.19 C141.84,411.52 141.14,411.12 141.27,410.60 C141.40,410.07 142.24,409.58 142.54,409.00 C142.84,408.43 142.86,407.77 143.05,407.15 C143.24,406.53 143.39,405.74 143.68,405.30 C143.98,404.85 144.38,404.63 144.83,404.50 C145.27,404.37 145.84,404.50 146.35,404.50 Z" fill="url(#gm1)" filter="url(#fur)"/>
<path d="M146.35,404.50 C146.86,404.50 147.43,404.37 147.87,404.50 C148.32,404.63 148.72,404.85 149.02,405.30 C149.31,405.74 149.46,406.53 149.65,407.15 C149.84,407.77 149.86,408.43 150.16,409.00 C150.46,409.58 151.30,410.07 151.43,410.60 C151.56,411.12 150.86,411.52 150.92,412.19 C150.99,412.85 151.56,413.64 151.81,414.57 C152.06,415.50 152.30,416.56 152.45,417.75 C152.59,418.94 152.66,420.40 152.70,421.73 C152.74,423.05 152.76,424.51 152.70,425.70 C152.64,426.89 152.74,428.04 152.32,428.88 C151.90,429.72 151.15,430.38 150.16,430.74 C149.17,431.09 147.62,431.00 146.35,431.00 C145.08,431.00 143.53,431.09 142.54,430.74 C141.55,430.38 140.80,429.72 140.38,428.88 C139.96,428.04 140.06,426.89 140.00,425.70 C139.94,424.51 139.96,423.05 140.00,421.73 C140.04,420.40 140.11,418.94 140.25,417.75 C140.40,416.56 140.64,415.50 140.89,414.57 C141.14,413.64 141.71,412.85 141.78,412.19 C141.84,411.52 141.14,411.12 141.27,410.60 C141.40,410.07 142.24,409.58 142.54,409.00 C142.84,408.43 142.86,407.77 143.05,407.15 C143.24,406.53 143.39,405.74 143.68,405.30 C143.98,404.85 144.38,404.63 144.83,404.50 C145.27,404.37 145.84,404.50 146.35,404.50 Z" fill="url(#ge)" filter="url(#bl)"/>
<path d="M142.29,429.50 L141.78,432.60 M150.41,429.50 L150.92,432.60 M146.35,430.00 L146.55,433.80" stroke="#888" stroke-width="0.9" filter="url(#bl)"/>
<ellipse cx="148.80" cy="417.00" rx="2.6" ry="3.0" fill="#3848c0" opacity="0.9" filter="url(#bl)"/>
<ellipse cx="148.80" cy="417.20" rx="1.8" ry="2.1" fill="#60d030" opacity="1" filter="url(#bl)"/>
<rect x="178.1" y="400.6" width="85.20" height="35.20" fill="#060606"/>
<path d="M186.80,403.00 C187.38,403.00 188.02,402.86 188.53,403.00 C189.03,403.14 189.49,403.39 189.82,403.87 C190.16,404.35 190.33,405.22 190.54,405.90 C190.76,406.58 190.78,407.30 191.12,407.93 C191.46,408.56 192.42,409.09 192.56,409.67 C192.70,410.25 191.91,410.69 191.98,411.41 C192.06,412.13 192.70,413.00 192.99,414.02 C193.28,415.03 193.54,416.19 193.71,417.50 C193.88,418.81 193.95,420.40 194.00,421.85 C194.05,423.30 194.07,424.89 194.00,426.20 C193.93,427.50 194.05,428.76 193.57,429.68 C193.09,430.60 192.25,431.32 191.12,431.71 C189.99,432.10 188.24,432.00 186.80,432.00 C185.36,432.00 183.61,432.10 182.48,431.71 C181.35,431.32 180.51,430.60 180.03,429.68 C179.55,428.76 179.67,427.50 179.60,426.20 C179.53,424.89 179.55,423.30 179.60,421.85 C179.65,420.40 179.72,418.81 179.89,417.50 C180.06,416.19 180.32,415.03 180.61,414.02 C180.90,413.00 181.54,412.13 181.62,411.41 C181.69,410.69 180.90,410.25 181.04,409.67 C181.18,409.09 182.14,408.56 182.48,407.93 C182.82,407.30 182.84,406.58 183.06,405.90 C183.27,405.22 183.44,404.35 183.78,403.87 C184.11,403.39 184.57,403.14 185.07,403.00 C185.58,402.86 186.22,403.00 186.80,403.00 Z" fill="url(#gm1)" filter="url(#fur)"/>
<path d="M186.80,403.00 C187.38,403.00 188.02,402.86 188.53,403.00 C189.03,403.14 189.49,403.39 189.82,403.87 C190.16,404.35 190.33,405.22 190.54,405.90 C190.76,406.58 190.78,407.30 191.12,407.93 C191.46,408.56 192.42,409.09 192.56,409.67 C192.70,410.25 191.91,410.69 191.98,411.41 C192.06,412.13 192.70,413.00 192.99,414.02 C193.28,415.03 193.54,416.19 193.71,417.50 C193.88,418.81 193.95,420.40 194.00,421.85 C194.05,423.30 194.07,424.89 194.00,426.20 C193.93,427.50 194.05,428.76 193.57,429.68 C193.09,430.60 192.25,431.32 191.12,431.71 C189.99,432.10 188.24,432.00 186.80,432.00 C185.36,432.00 183.61,432.10 182.48,431.71 C181.35,431.32 180.51,430.60 180.03,429.68 C179.55,428.76 179.67,427.50 179.60,426.20 C179.53,424.89 179.55,423.30 179.60,421.85 C179.65,420.40 179.72,418.81 179.89,417.50 C180.06,416.19 180.32,415.03 180.61,414.02 C180.90,413.00 181.54,412.13 181.62,411.41 C181.69,410.69 180.90,410.25 181.04,409.67 C181.18,409.09 182.14,408.56 182.48,407.93 C182.82,407.30 182.84,406.58 183.06,405.90 C183.27,405.22 183.44,404.35 183.78,403.87 C184.11,403.39 184.57,403.14 185.07,403.00 C185.58,402.86 186.22,403.00 186.80,403.00 Z" fill="url(#ge)" filter="url(#bl)"/>
<path d="M182.19,430.50 L181.62,433.60 M191.41,430.50 L191.98,433.60 M186.80,431.00 L187.00,434.80" stroke="#888" stroke-width="0.9" filter="url(#bl)"/>
<ellipse cx="186.60" cy="421.00" rx="6.5" ry="9.6" fill="#3040c0" opacity="0.95" filter="url(#bl)"/>
<ellipse cx="186.40" cy="421.00" rx="5.4" ry="8.2" fill="#98d4e8" opacity="1" filter="url(#bl)"/>
<ellipse cx="185.80" cy="421.20" rx="3.8" ry="4.2" fill="#60c860" opacity="1" filter="url(#bl)"/>
<ellipse cx="185.60" cy="421.50" rx="2.2" ry="2.4" fill="#58d030" opacity="1" filter="url(#bl)"/>
<ellipse cx="189.50" cy="411.50" rx="1.6" ry="1.2" fill="#4858c8" opacity="0.7" filter="url(#bl)"/>
<path d="M203.65,403.00 C204.26,403.00 204.95,402.86 205.49,403.00 C206.02,403.14 206.51,403.39 206.86,403.87 C207.22,404.35 207.40,405.22 207.63,405.90 C207.86,406.58 207.88,407.30 208.24,407.93 C208.60,408.56 209.62,409.09 209.77,409.67 C209.92,410.25 209.08,410.69 209.16,411.41 C209.23,412.13 209.92,413.00 210.23,414.02 C210.54,415.03 210.82,416.19 210.99,417.50 C211.17,418.81 211.25,420.40 211.30,421.85 C211.35,423.30 211.38,424.89 211.30,426.20 C211.22,427.50 211.35,428.76 210.84,429.68 C210.33,430.60 209.44,431.32 208.24,431.71 C207.04,432.10 205.18,432.00 203.65,432.00 C202.12,432.00 200.26,432.10 199.06,431.71 C197.86,431.32 196.97,430.60 196.46,429.68 C195.95,428.76 196.08,427.50 196.00,426.20 C195.92,424.89 195.95,423.30 196.00,421.85 C196.05,420.40 196.13,418.81 196.31,417.50 C196.48,416.19 196.76,415.03 197.07,414.02 C197.38,413.00 198.07,412.13 198.14,411.41 C198.22,410.69 197.38,410.25 197.53,409.67 C197.68,409.09 198.70,408.56 199.06,407.93 C199.42,407.30 199.44,406.58 199.67,405.90 C199.90,405.22 200.08,404.35 200.44,403.87 C200.79,403.39 201.28,403.14 201.81,403.00 C202.35,402.86 203.04,403.00 203.65,403.00 Z" fill="url(#gm1)" filter="url(#fur)"/>
<path d="M203.65,403.00 C204.26,403.00 204.95,402.86 205.49,403.00 C206.02,403.14 206.51,403.39 206.86,403.87 C207.22,404.35 207.40,405.22 207.63,405.90 C207.86,406.58 207.88,407.30 208.24,407.93 C208.60,408.56 209.62,409.09 209.77,409.67 C209.92,410.25 209.08,410.69 209.16,411.41 C209.23,412.13 209.92,413.00 210.23,414.02 C210.54,415.03 210.82,416.19 210.99,417.50 C211.17,418.81 211.25,420.40 211.30,421.85 C211.35,423.30 211.38,424.89 211.30,426.20 C211.22,427.50 211.35,428.76 210.84,429.68 C210.33,430.60 209.44,431.32 208.24,431.71 C207.04,432.10 205.18,432.00 203.65,432.00 C202.12,432.00 200.26,432.10 199.06,431.71 C197.86,431.32 196.97,430.60 196.46,429.68 C195.95,428.76 196.08,427.50 196.00,426.20 C195.92,424.89 195.95,423.30 196.00,421.85 C196.05,420.40 196.13,418.81 196.31,417.50 C196.48,416.19 196.76,415.03 197.07,414.02 C197.38,413.00 198.07,412.13 198.14,411.41 C198.22,410.69 197.38,410.25 197.53,409.67 C197.68,409.09 198.70,408.56 199.06,407.93 C199.42,407.30 199.44,406.58 199.67,405.90 C199.90,405.22 200.08,404.35 200.44,403.87 C200.79,403.39 201.28,403.14 201.81,403.00 C202.35,402.86 203.04,403.00 203.65,403.00 Z" fill="url(#ge)" filter="url(#bl)"/>
<path d="M198.75,430.50 L198.14,433.60 M208.55,430.50 L209.16,433.60 M203.65,431.00 L203.85,434.80" stroke="#888" stroke-width="0.9" filter="url(#bl)"/>
<ellipse cx="205.2" cy="418.5" rx="1.6" ry="5.2" transform="rotate(25 205.2 418.5)" fill="#3848c0" opacity="0.9" filter="url(#bl)"/>
<ellipse cx="201.00" cy="424.80" rx="3.0" ry="1.3" fill="#5868d0" opacity="0.85" filter="url(#bl)"/>
<ellipse cx="204.50" cy="428.00" rx="3.2" ry="1.3" fill="#9080d8" opacity="0.8" filter="url(#bl)"/>
<ellipse cx="198.50" cy="412.00" rx="1.0" ry="2.6" fill="#6070d0" opacity="0.6" filter="url(#bl)"/>
<ellipse cx="208.80" cy="408.50" rx="1.3" ry="1.6" fill="#5060d0" opacity="0.6" filter="url(#bl)"/>
<path d="M220.6,403 C224,403 225.5,407 225.8,410 C228.5,415 228.6,424 227.6,428.5 C226.6,431.5 223.5,432 220.6,432 C217.5,432 214.5,431.5 213.5,428.5 C212.5,424 212.7,415 215.4,410 C215.7,407 217.2,403 220.6,403 Z" fill="#3048c8" filter="url(#bl)"/>
<ellipse cx="220.60" cy="406.60" rx="3.2" ry="2.7" fill="#58c0e0" opacity="1" filter="url(#bl)"/>
<ellipse cx="220.60" cy="406.80" rx="1.8" ry="1.5" fill="#80d070" opacity="0.9" filter="url(#bl)"/>
<ellipse cx="220.60" cy="420.80" rx="6.3" ry="9.6" fill="#48b8e0" opacity="1" filter="url(#bl)"/>
<ellipse cx="220.60" cy="420.80" rx="5.5" ry="8.8" fill="#70c848" opacity="1" filter="url(#bl)"/>
<ellipse cx="220.70" cy="421.30" rx="4.6" ry="7.4" fill="#d0e040" opacity="1" filter="url(#bl)"/>
<ellipse cx="220.30" cy="417.60" rx="2.9" ry="2.7" fill="#e82018" opacity="1" filter="url(#bl)"/>
<ellipse cx="221.00" cy="425.30" rx="4.4" ry="3.4" fill="#e82018" opacity="1" filter="url(#bl)"/>
<path d="M237.05,403.80 C237.57,403.80 238.15,403.66 238.60,403.80 C239.05,403.94 239.46,404.18 239.76,404.65 C240.06,405.12 240.21,405.96 240.40,406.62 C240.60,407.28 240.62,407.98 240.92,408.59 C241.22,409.20 242.08,409.72 242.21,410.29 C242.34,410.85 241.63,411.27 241.69,411.98 C241.76,412.68 242.34,413.53 242.60,414.52 C242.86,415.50 243.09,416.63 243.24,417.90 C243.39,419.17 243.46,420.72 243.50,422.13 C243.54,423.54 243.56,425.09 243.50,426.36 C243.44,427.63 243.54,428.85 243.11,429.74 C242.68,430.64 241.93,431.34 240.92,431.72 C239.91,432.09 238.34,432.00 237.05,432.00 C235.76,432.00 234.19,432.09 233.18,431.72 C232.17,431.34 231.42,430.64 230.99,429.74 C230.56,428.85 230.66,427.63 230.60,426.36 C230.54,425.09 230.56,423.54 230.60,422.13 C230.64,420.72 230.71,419.17 230.86,417.90 C231.01,416.63 231.25,415.50 231.50,414.52 C231.76,413.53 232.34,412.68 232.41,411.98 C232.47,411.27 231.76,410.85 231.89,410.29 C232.02,409.72 232.88,409.20 233.18,408.59 C233.48,407.98 233.50,407.28 233.70,406.62 C233.89,405.96 234.04,405.12 234.34,404.65 C234.64,404.18 235.05,403.94 235.50,403.80 C235.95,403.66 236.53,403.80 237.05,403.80 Z" fill="url(#gm2)" filter="url(#fur)"/>
<path d="M237.05,403.80 C237.57,403.80 238.15,403.66 238.60,403.80 C239.05,403.94 239.46,404.18 239.76,404.65 C240.06,405.12 240.21,405.96 240.40,406.62 C240.60,407.28 240.62,407.98 240.92,408.59 C241.22,409.20 242.08,409.72 242.21,410.29 C242.34,410.85 241.63,411.27 241.69,411.98 C241.76,412.68 242.34,413.53 242.60,414.52 C242.86,415.50 243.09,416.63 243.24,417.90 C243.39,419.17 243.46,420.72 243.50,422.13 C243.54,423.54 243.56,425.09 243.50,426.36 C243.44,427.63 243.54,428.85 243.11,429.74 C242.68,430.64 241.93,431.34 240.92,431.72 C239.91,432.09 238.34,432.00 237.05,432.00 C235.76,432.00 234.19,432.09 233.18,431.72 C232.17,431.34 231.42,430.64 230.99,429.74 C230.56,428.85 230.66,427.63 230.60,426.36 C230.54,425.09 230.56,423.54 230.60,422.13 C230.64,420.72 230.71,419.17 230.86,417.90 C231.01,416.63 231.25,415.50 231.50,414.52 C231.76,413.53 232.34,412.68 232.41,411.98 C232.47,411.27 231.76,410.85 231.89,410.29 C232.02,409.72 232.88,409.20 233.18,408.59 C233.48,407.98 233.50,407.28 233.70,406.62 C233.89,405.96 234.04,405.12 234.34,404.65 C234.64,404.18 235.05,403.94 235.50,403.80 C235.95,403.66 236.53,403.80 237.05,403.80 Z" fill="url(#ge)" filter="url(#bl)"/>
<path d="M232.92,430.50 L232.41,433.60 M241.18,430.50 L241.69,433.60 M237.05,431.00 L237.25,434.80" stroke="#888" stroke-width="0.9" filter="url(#bl)"/>
<path d="M254.15,404.20 C254.72,404.20 255.37,404.06 255.87,404.20 C256.37,404.34 256.82,404.58 257.15,405.06 C257.49,405.54 257.65,406.41 257.87,407.08 C258.08,407.75 258.11,408.47 258.44,409.10 C258.77,409.72 259.73,410.25 259.87,410.82 C260.01,411.40 259.23,411.83 259.30,412.55 C259.37,413.27 260.01,414.14 260.30,415.14 C260.59,416.15 260.85,417.30 261.01,418.60 C261.18,419.90 261.25,421.48 261.30,422.92 C261.35,424.36 261.37,425.94 261.30,427.24 C261.23,428.54 261.35,429.78 260.87,430.70 C260.39,431.61 259.56,432.33 258.44,432.71 C257.32,433.10 255.58,433.00 254.15,433.00 C252.72,433.00 250.98,433.10 249.86,432.71 C248.74,432.33 247.91,431.61 247.43,430.70 C246.95,429.78 247.07,428.54 247.00,427.24 C246.93,425.94 246.95,424.36 247.00,422.92 C247.05,421.48 247.12,419.90 247.29,418.60 C247.45,417.30 247.72,416.15 248.00,415.14 C248.29,414.14 248.93,413.27 249.00,412.55 C249.07,411.83 248.29,411.40 248.43,410.82 C248.57,410.25 249.53,409.72 249.86,409.10 C250.19,408.47 250.22,407.75 250.43,407.08 C250.65,406.41 250.81,405.54 251.15,405.06 C251.48,404.58 251.93,404.34 252.43,404.20 C252.93,404.06 253.58,404.20 254.15,404.20 Z" fill="url(#gm1)" filter="url(#fur)"/>
<path d="M254.15,404.20 C254.72,404.20 255.37,404.06 255.87,404.20 C256.37,404.34 256.82,404.58 257.15,405.06 C257.49,405.54 257.65,406.41 257.87,407.08 C258.08,407.75 258.11,408.47 258.44,409.10 C258.77,409.72 259.73,410.25 259.87,410.82 C260.01,411.40 259.23,411.83 259.30,412.55 C259.37,413.27 260.01,414.14 260.30,415.14 C260.59,416.15 260.85,417.30 261.01,418.60 C261.18,419.90 261.25,421.48 261.30,422.92 C261.35,424.36 261.37,425.94 261.30,427.24 C261.23,428.54 261.35,429.78 260.87,430.70 C260.39,431.61 259.56,432.33 258.44,432.71 C257.32,433.10 255.58,433.00 254.15,433.00 C252.72,433.00 250.98,433.10 249.86,432.71 C248.74,432.33 247.91,431.61 247.43,430.70 C246.95,429.78 247.07,428.54 247.00,427.24 C246.93,425.94 246.95,424.36 247.00,422.92 C247.05,421.48 247.12,419.90 247.29,418.60 C247.45,417.30 247.72,416.15 248.00,415.14 C248.29,414.14 248.93,413.27 249.00,412.55 C249.07,411.83 248.29,411.40 248.43,410.82 C248.57,410.25 249.53,409.72 249.86,409.10 C250.19,408.47 250.22,407.75 250.43,407.08 C250.65,406.41 250.81,405.54 251.15,405.06 C251.48,404.58 251.93,404.34 252.43,404.20 C252.93,404.06 253.58,404.20 254.15,404.20 Z" fill="url(#ge)" filter="url(#bl)"/>
<path d="M249.57,431.50 L249.00,434.60 M258.73,431.50 L259.30,434.60 M254.15,432.00 L254.35,435.80" stroke="#888" stroke-width="0.9" filter="url(#bl)"/>
<rect x="0.5" y="0.5" width="519" height="442" fill="none" stroke="#4a4a4a" stroke-width="1"/>
</svg></body></html>
